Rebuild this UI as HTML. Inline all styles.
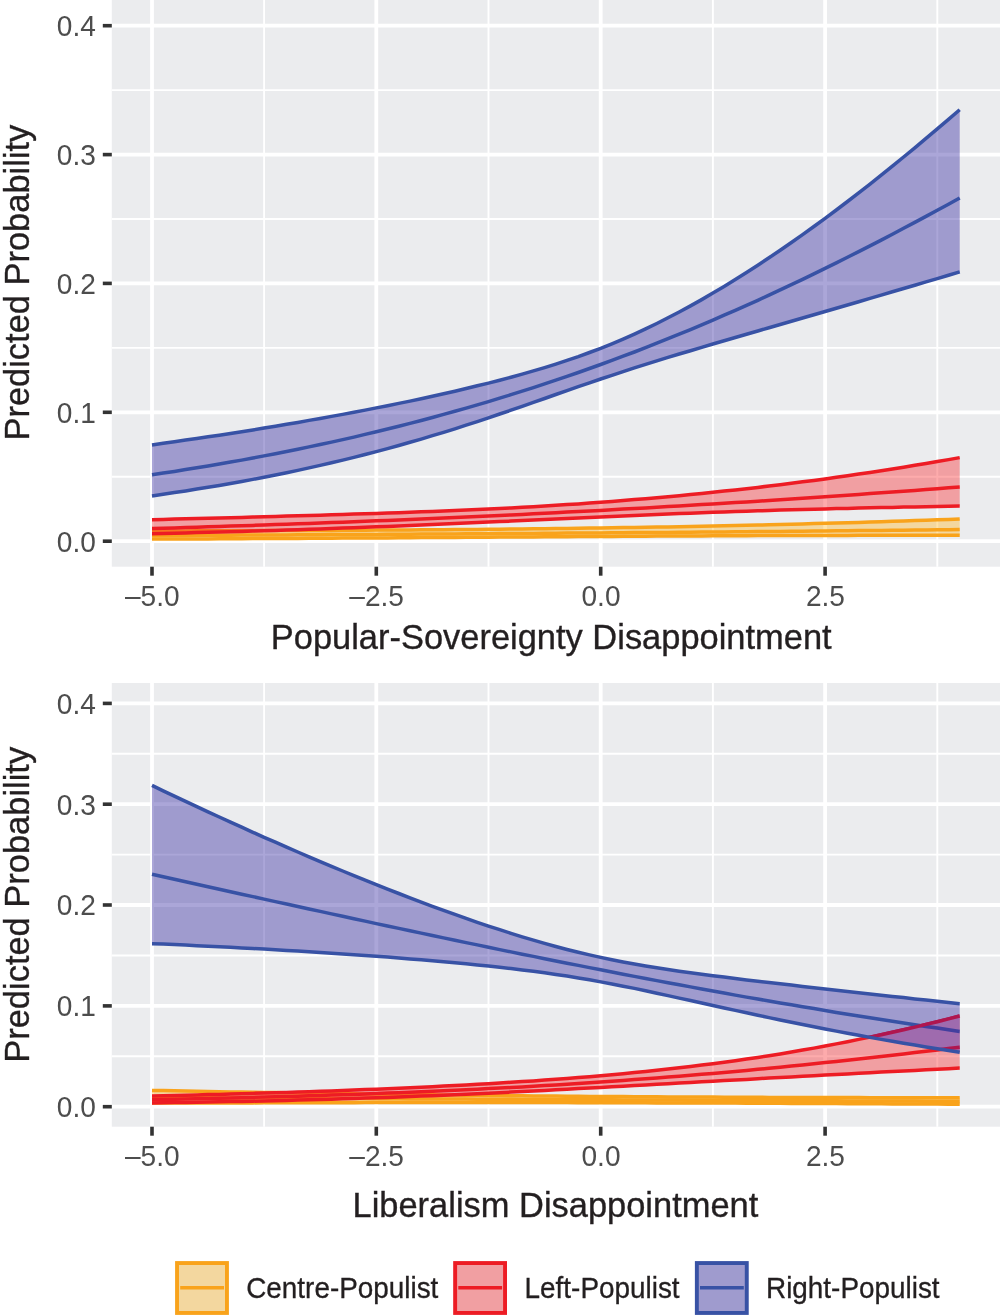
<!DOCTYPE html>
<html lang="en">
<head>
<meta charset="utf-8">
<title>Predicted Probability</title>
<style>
html,body{margin:0;padding:0;background:#ffffff;}
body{width:1000px;height:1315px;overflow:hidden;font-family:"Liberation Sans",sans-serif;}
svg{display:block;will-change:transform;}
svg text{font-family:"Liberation Sans",sans-serif;}
</style>
</head>
<body>
<svg width="1000" height="1315" viewBox="0 0 1000 1315">
<rect x="0" y="0" width="1000" height="1315" fill="#ffffff"/>
<rect x="111.8" y="0.0" width="888.2" height="566.7" fill="#ebecee"/>
<line x1="111.8" x2="1000.0" y1="476.8" y2="476.8" stroke="#ffffff" stroke-width="1.9"/>
<line x1="111.8" x2="1000.0" y1="347.9" y2="347.9" stroke="#ffffff" stroke-width="1.9"/>
<line x1="111.8" x2="1000.0" y1="219.0" y2="219.0" stroke="#ffffff" stroke-width="1.9"/>
<line x1="111.8" x2="1000.0" y1="90.1" y2="90.1" stroke="#ffffff" stroke-width="1.9"/>
<line x1="264.1" x2="264.1" y1="0.0" y2="566.7" stroke="#ffffff" stroke-width="1.9"/>
<line x1="488.5" x2="488.5" y1="0.0" y2="566.7" stroke="#ffffff" stroke-width="1.9"/>
<line x1="712.9" x2="712.9" y1="0.0" y2="566.7" stroke="#ffffff" stroke-width="1.9"/>
<line x1="937.3" x2="937.3" y1="0.0" y2="566.7" stroke="#ffffff" stroke-width="1.9"/>
<line x1="111.8" x2="1000.0" y1="541.2" y2="541.2" stroke="#ffffff" stroke-width="3.8"/>
<line x1="111.8" x2="1000.0" y1="412.3" y2="412.3" stroke="#ffffff" stroke-width="3.8"/>
<line x1="111.8" x2="1000.0" y1="283.4" y2="283.4" stroke="#ffffff" stroke-width="3.8"/>
<line x1="111.8" x2="1000.0" y1="154.6" y2="154.6" stroke="#ffffff" stroke-width="3.8"/>
<line x1="111.8" x2="1000.0" y1="25.7" y2="25.7" stroke="#ffffff" stroke-width="3.8"/>
<line x1="152.0" x2="152.0" y1="0.0" y2="566.7" stroke="#ffffff" stroke-width="3.8"/>
<line x1="376.3" x2="376.3" y1="0.0" y2="566.7" stroke="#ffffff" stroke-width="3.8"/>
<line x1="600.7" x2="600.7" y1="0.0" y2="566.7" stroke="#ffffff" stroke-width="3.8"/>
<line x1="825.1" x2="825.1" y1="0.0" y2="566.7" stroke="#ffffff" stroke-width="3.8"/>
<clipPath id="clip-p0"><path d="M152.0,444.9 L163.2,443.3 L174.4,441.7 L185.6,440.1 L196.8,438.5 L208.0,436.8 L219.3,435.2 L230.5,433.4 L241.7,431.7 L252.9,429.9 L264.1,428.1 L275.4,426.2 L286.6,424.3 L297.8,422.4 L309.0,420.4 L320.2,418.5 L331.5,416.4 L342.7,414.4 L353.9,412.2 L365.1,410.1 L376.3,407.9 L387.5,405.7 L398.8,403.4 L410.0,401.1 L421.2,398.7 L432.4,396.2 L443.6,393.7 L454.9,391.2 L466.1,388.5 L477.3,385.8 L488.5,383.1 L499.7,380.2 L511.0,377.2 L522.2,374.1 L533.4,370.9 L544.6,367.6 L555.8,364.1 L567.0,360.4 L578.3,356.6 L589.5,352.5 L600.7,348.3 L611.9,343.8 L623.1,339.1 L634.4,334.1 L645.6,328.9 L656.8,323.5 L668.0,317.8 L679.2,312.0 L690.5,305.9 L701.7,299.6 L712.9,293.1 L724.1,286.4 L735.3,279.5 L746.5,272.4 L757.8,265.2 L769.0,257.8 L780.2,250.2 L791.4,242.5 L802.6,234.6 L813.9,226.5 L825.1,218.3 L836.3,210.0 L847.5,201.5 L858.7,192.8 L870.0,184.1 L881.2,175.2 L892.4,166.2 L903.6,157.0 L914.8,147.8 L926.0,138.4 L937.3,128.9 L948.5,119.4 L959.7,109.7 L959.7,271.9 L948.5,275.3 L937.3,278.6 L926.0,281.9 L914.8,285.2 L903.6,288.5 L892.4,291.8 L881.2,295.1 L870.0,298.4 L858.7,301.7 L847.5,305.0 L836.3,308.2 L825.1,311.5 L813.9,314.8 L802.6,318.0 L791.4,321.2 L780.2,324.5 L769.0,327.7 L757.8,331.0 L746.5,334.2 L735.3,337.5 L724.1,340.8 L712.9,344.0 L701.7,347.3 L690.5,350.7 L679.2,354.0 L668.0,357.4 L656.8,360.9 L645.6,364.4 L634.4,367.9 L623.1,371.6 L611.9,375.3 L600.7,379.0 L589.5,382.8 L578.3,386.7 L567.0,390.6 L555.8,394.5 L544.6,398.5 L533.4,402.4 L522.2,406.3 L511.0,410.2 L499.7,414.0 L488.5,417.8 L477.3,421.6 L466.1,425.2 L454.9,428.8 L443.6,432.3 L432.4,435.7 L421.2,439.1 L410.0,442.3 L398.8,445.5 L387.5,448.6 L376.3,451.6 L365.1,454.5 L353.9,457.4 L342.7,460.1 L331.5,462.8 L320.2,465.4 L309.0,467.9 L297.8,470.4 L286.6,472.7 L275.4,475.0 L264.1,477.2 L252.9,479.4 L241.7,481.5 L230.5,483.5 L219.3,485.4 L208.0,487.3 L196.8,489.1 L185.6,490.9 L174.4,492.6 L163.2,494.3 L152.0,495.9Z"/></clipPath>
<path d="M152.0,530.9 L163.2,530.9 L174.4,530.9 L185.6,530.9 L196.8,530.8 L208.0,530.8 L219.3,530.8 L230.5,530.7 L241.7,530.7 L252.9,530.7 L264.1,530.6 L275.4,530.6 L286.6,530.6 L297.8,530.5 L309.0,530.5 L320.2,530.4 L331.5,530.4 L342.7,530.3 L353.9,530.3 L365.1,530.2 L376.3,530.1 L387.5,530.1 L398.8,530.0 L410.0,529.9 L421.2,529.8 L432.4,529.8 L443.6,529.7 L454.9,529.6 L466.1,529.5 L477.3,529.4 L488.5,529.3 L499.7,529.2 L511.0,529.0 L522.2,528.9 L533.4,528.8 L544.6,528.7 L555.8,528.5 L567.0,528.4 L578.3,528.2 L589.5,528.1 L600.7,527.9 L611.9,527.8 L623.1,527.6 L634.4,527.4 L645.6,527.2 L656.8,527.1 L668.0,526.9 L679.2,526.7 L690.5,526.4 L701.7,526.2 L712.9,526.0 L724.1,525.8 L735.3,525.5 L746.5,525.3 L757.8,525.0 L769.0,524.8 L780.2,524.5 L791.4,524.2 L802.6,523.9 L813.9,523.6 L825.1,523.3 L836.3,523.0 L847.5,522.7 L858.7,522.4 L870.0,522.0 L881.2,521.7 L892.4,521.3 L903.6,521.0 L914.8,520.6 L926.0,520.2 L937.3,519.8 L948.5,519.4 L959.7,519.0 L959.7,535.2 L948.5,535.2 L937.3,535.2 L926.0,535.2 L914.8,535.3 L903.6,535.3 L892.4,535.3 L881.2,535.3 L870.0,535.3 L858.7,535.3 L847.5,535.4 L836.3,535.4 L825.1,535.4 L813.9,535.4 L802.6,535.5 L791.4,535.5 L780.2,535.5 L769.0,535.6 L757.8,535.6 L746.5,535.7 L735.3,535.7 L724.1,535.8 L712.9,535.8 L701.7,535.9 L690.5,535.9 L679.2,536.0 L668.0,536.0 L656.8,536.1 L645.6,536.2 L634.4,536.2 L623.1,536.3 L611.9,536.4 L600.7,536.4 L589.5,536.5 L578.3,536.6 L567.0,536.7 L555.8,536.7 L544.6,536.8 L533.4,536.9 L522.2,537.0 L511.0,537.0 L499.7,537.1 L488.5,537.2 L477.3,537.3 L466.1,537.3 L454.9,537.4 L443.6,537.5 L432.4,537.6 L421.2,537.6 L410.0,537.7 L398.8,537.8 L387.5,537.9 L376.3,537.9 L365.1,538.0 L353.9,538.1 L342.7,538.1 L331.5,538.2 L320.2,538.3 L309.0,538.3 L297.8,538.4 L286.6,538.5 L275.4,538.5 L264.1,538.6 L252.9,538.6 L241.7,538.7 L230.5,538.8 L219.3,538.8 L208.0,538.9 L196.8,538.9 L185.6,539.0 L174.4,539.0 L163.2,539.1 L152.0,539.1Z" fill="#ffb929" fill-opacity="0.4" stroke="none"/>
<path d="M152.0,530.9 L163.2,530.9 L174.4,530.9 L185.6,530.9 L196.8,530.8 L208.0,530.8 L219.3,530.8 L230.5,530.7 L241.7,530.7 L252.9,530.7 L264.1,530.6 L275.4,530.6 L286.6,530.6 L297.8,530.5 L309.0,530.5 L320.2,530.4 L331.5,530.4 L342.7,530.3 L353.9,530.3 L365.1,530.2 L376.3,530.1 L387.5,530.1 L398.8,530.0 L410.0,529.9 L421.2,529.8 L432.4,529.8 L443.6,529.7 L454.9,529.6 L466.1,529.5 L477.3,529.4 L488.5,529.3 L499.7,529.2 L511.0,529.0 L522.2,528.9 L533.4,528.8 L544.6,528.7 L555.8,528.5 L567.0,528.4 L578.3,528.2 L589.5,528.1 L600.7,527.9 L611.9,527.8 L623.1,527.6 L634.4,527.4 L645.6,527.2 L656.8,527.1 L668.0,526.9 L679.2,526.7 L690.5,526.4 L701.7,526.2 L712.9,526.0 L724.1,525.8 L735.3,525.5 L746.5,525.3 L757.8,525.0 L769.0,524.8 L780.2,524.5 L791.4,524.2 L802.6,523.9 L813.9,523.6 L825.1,523.3 L836.3,523.0 L847.5,522.7 L858.7,522.4 L870.0,522.0 L881.2,521.7 L892.4,521.3 L903.6,521.0 L914.8,520.6 L926.0,520.2 L937.3,519.8 L948.5,519.4 L959.7,519.0" fill="none" stroke="#f9a31b" stroke-width="3.5" stroke-linejoin="round"/>
<path d="M152.0,539.1 L163.2,539.1 L174.4,539.0 L185.6,539.0 L196.8,538.9 L208.0,538.9 L219.3,538.8 L230.5,538.8 L241.7,538.7 L252.9,538.6 L264.1,538.6 L275.4,538.5 L286.6,538.5 L297.8,538.4 L309.0,538.3 L320.2,538.3 L331.5,538.2 L342.7,538.1 L353.9,538.1 L365.1,538.0 L376.3,537.9 L387.5,537.9 L398.8,537.8 L410.0,537.7 L421.2,537.6 L432.4,537.6 L443.6,537.5 L454.9,537.4 L466.1,537.3 L477.3,537.3 L488.5,537.2 L499.7,537.1 L511.0,537.0 L522.2,537.0 L533.4,536.9 L544.6,536.8 L555.8,536.7 L567.0,536.7 L578.3,536.6 L589.5,536.5 L600.7,536.4 L611.9,536.4 L623.1,536.3 L634.4,536.2 L645.6,536.2 L656.8,536.1 L668.0,536.0 L679.2,536.0 L690.5,535.9 L701.7,535.9 L712.9,535.8 L724.1,535.8 L735.3,535.7 L746.5,535.7 L757.8,535.6 L769.0,535.6 L780.2,535.5 L791.4,535.5 L802.6,535.5 L813.9,535.4 L825.1,535.4 L836.3,535.4 L847.5,535.4 L858.7,535.3 L870.0,535.3 L881.2,535.3 L892.4,535.3 L903.6,535.3 L914.8,535.3 L926.0,535.2 L937.3,535.2 L948.5,535.2 L959.7,535.2" fill="none" stroke="#f9a31b" stroke-width="3.5" stroke-linejoin="round"/>
<path d="M152.0,535.6 L163.2,535.5 L174.4,535.4 L185.6,535.4 L196.8,535.3 L208.0,535.3 L219.3,535.2 L230.5,535.2 L241.7,535.1 L252.9,535.1 L264.1,535.0 L275.4,534.9 L286.6,534.9 L297.8,534.8 L309.0,534.8 L320.2,534.7 L331.5,534.6 L342.7,534.6 L353.9,534.5 L365.1,534.5 L376.3,534.4 L387.5,534.3 L398.8,534.3 L410.0,534.2 L421.2,534.1 L432.4,534.1 L443.6,534.0 L454.9,533.9 L466.1,533.8 L477.3,533.8 L488.5,533.7 L499.7,533.6 L511.0,533.5 L522.2,533.5 L533.4,533.4 L544.6,533.3 L555.8,533.2 L567.0,533.1 L578.3,533.1 L589.5,533.0 L600.7,532.9 L611.9,532.8 L623.1,532.7 L634.4,532.6 L645.6,532.5 L656.8,532.5 L668.0,532.4 L679.2,532.3 L690.5,532.2 L701.7,532.1 L712.9,532.0 L724.1,531.9 L735.3,531.8 L746.5,531.7 L757.8,531.6 L769.0,531.5 L780.2,531.4 L791.4,531.3 L802.6,531.2 L813.9,531.1 L825.1,531.0 L836.3,530.8 L847.5,530.7 L858.7,530.6 L870.0,530.5 L881.2,530.4 L892.4,530.3 L903.6,530.2 L914.8,530.0 L926.0,529.9 L937.3,529.8 L948.5,529.7 L959.7,529.5" fill="none" stroke="#f9a31b" stroke-width="3.5" stroke-linejoin="round"/>
<path d="M152.0,519.7 L163.2,519.4 L174.4,519.1 L185.6,518.8 L196.8,518.5 L208.0,518.2 L219.3,517.9 L230.5,517.7 L241.7,517.4 L252.9,517.1 L264.1,516.8 L275.4,516.4 L286.6,516.1 L297.8,515.8 L309.0,515.5 L320.2,515.2 L331.5,514.8 L342.7,514.5 L353.9,514.1 L365.1,513.8 L376.3,513.4 L387.5,513.0 L398.8,512.7 L410.0,512.3 L421.2,511.8 L432.4,511.4 L443.6,511.0 L454.9,510.5 L466.1,510.0 L477.3,509.5 L488.5,509.0 L499.7,508.4 L511.0,507.9 L522.2,507.3 L533.4,506.7 L544.6,506.0 L555.8,505.3 L567.0,504.6 L578.3,503.9 L589.5,503.1 L600.7,502.3 L611.9,501.4 L623.1,500.6 L634.4,499.6 L645.6,498.7 L656.8,497.7 L668.0,496.7 L679.2,495.7 L690.5,494.6 L701.7,493.5 L712.9,492.3 L724.1,491.1 L735.3,489.9 L746.5,488.7 L757.8,487.4 L769.0,486.0 L780.2,484.7 L791.4,483.3 L802.6,481.8 L813.9,480.4 L825.1,478.9 L836.3,477.3 L847.5,475.7 L858.7,474.1 L870.0,472.4 L881.2,470.7 L892.4,469.0 L903.6,467.2 L914.8,465.3 L926.0,463.5 L937.3,461.6 L948.5,459.6 L959.7,457.6 L959.7,506.1 L948.5,506.3 L937.3,506.5 L926.0,506.7 L914.8,506.9 L903.6,507.1 L892.4,507.4 L881.2,507.6 L870.0,507.8 L858.7,508.1 L847.5,508.4 L836.3,508.6 L825.1,508.9 L813.9,509.2 L802.6,509.5 L791.4,509.8 L780.2,510.1 L769.0,510.5 L757.8,510.8 L746.5,511.2 L735.3,511.6 L724.1,511.9 L712.9,512.3 L701.7,512.7 L690.5,513.2 L679.2,513.6 L668.0,514.1 L656.8,514.5 L645.6,515.0 L634.4,515.5 L623.1,516.0 L611.9,516.5 L600.7,517.0 L589.5,517.5 L578.3,518.0 L567.0,518.5 L555.8,519.0 L544.6,519.5 L533.4,520.1 L522.2,520.6 L511.0,521.1 L499.7,521.6 L488.5,522.1 L477.3,522.6 L466.1,523.1 L454.9,523.6 L443.6,524.1 L432.4,524.6 L421.2,525.0 L410.0,525.5 L398.8,526.0 L387.5,526.4 L376.3,526.8 L365.1,527.3 L353.9,527.7 L342.7,528.1 L331.5,528.5 L320.2,528.9 L309.0,529.3 L297.8,529.7 L286.6,530.0 L275.4,530.4 L264.1,530.7 L252.9,531.1 L241.7,531.4 L230.5,531.7 L219.3,532.0 L208.0,532.3 L196.8,532.6 L185.6,532.9 L174.4,533.2 L163.2,533.5 L152.0,533.7Z" fill="#fb2c2f" fill-opacity="0.4" stroke="none"/>
<path d="M152.0,519.7 L163.2,519.4 L174.4,519.1 L185.6,518.8 L196.8,518.5 L208.0,518.2 L219.3,517.9 L230.5,517.7 L241.7,517.4 L252.9,517.1 L264.1,516.8 L275.4,516.4 L286.6,516.1 L297.8,515.8 L309.0,515.5 L320.2,515.2 L331.5,514.8 L342.7,514.5 L353.9,514.1 L365.1,513.8 L376.3,513.4 L387.5,513.0 L398.8,512.7 L410.0,512.3 L421.2,511.8 L432.4,511.4 L443.6,511.0 L454.9,510.5 L466.1,510.0 L477.3,509.5 L488.5,509.0 L499.7,508.4 L511.0,507.9 L522.2,507.3 L533.4,506.7 L544.6,506.0 L555.8,505.3 L567.0,504.6 L578.3,503.9 L589.5,503.1 L600.7,502.3 L611.9,501.4 L623.1,500.6 L634.4,499.6 L645.6,498.7 L656.8,497.7 L668.0,496.7 L679.2,495.7 L690.5,494.6 L701.7,493.5 L712.9,492.3 L724.1,491.1 L735.3,489.9 L746.5,488.7 L757.8,487.4 L769.0,486.0 L780.2,484.7 L791.4,483.3 L802.6,481.8 L813.9,480.4 L825.1,478.9 L836.3,477.3 L847.5,475.7 L858.7,474.1 L870.0,472.4 L881.2,470.7 L892.4,469.0 L903.6,467.2 L914.8,465.3 L926.0,463.5 L937.3,461.6 L948.5,459.6 L959.7,457.6" fill="none" stroke="#ed1c24" stroke-width="3.5" stroke-linejoin="round"/>
<path d="M152.0,533.7 L163.2,533.5 L174.4,533.2 L185.6,532.9 L196.8,532.6 L208.0,532.3 L219.3,532.0 L230.5,531.7 L241.7,531.4 L252.9,531.1 L264.1,530.7 L275.4,530.4 L286.6,530.0 L297.8,529.7 L309.0,529.3 L320.2,528.9 L331.5,528.5 L342.7,528.1 L353.9,527.7 L365.1,527.3 L376.3,526.8 L387.5,526.4 L398.8,526.0 L410.0,525.5 L421.2,525.0 L432.4,524.6 L443.6,524.1 L454.9,523.6 L466.1,523.1 L477.3,522.6 L488.5,522.1 L499.7,521.6 L511.0,521.1 L522.2,520.6 L533.4,520.1 L544.6,519.5 L555.8,519.0 L567.0,518.5 L578.3,518.0 L589.5,517.5 L600.7,517.0 L611.9,516.5 L623.1,516.0 L634.4,515.5 L645.6,515.0 L656.8,514.5 L668.0,514.1 L679.2,513.6 L690.5,513.2 L701.7,512.7 L712.9,512.3 L724.1,511.9 L735.3,511.6 L746.5,511.2 L757.8,510.8 L769.0,510.5 L780.2,510.1 L791.4,509.8 L802.6,509.5 L813.9,509.2 L825.1,508.9 L836.3,508.6 L847.5,508.4 L858.7,508.1 L870.0,507.8 L881.2,507.6 L892.4,507.4 L903.6,507.1 L914.8,506.9 L926.0,506.7 L937.3,506.5 L948.5,506.3 L959.7,506.1" fill="none" stroke="#ed1c24" stroke-width="3.5" stroke-linejoin="round"/>
<path d="M152.0,528.5 L163.2,528.2 L174.4,527.9 L185.6,527.5 L196.8,527.2 L208.0,526.8 L219.3,526.5 L230.5,526.1 L241.7,525.8 L252.9,525.4 L264.1,525.0 L275.4,524.6 L286.6,524.2 L297.8,523.8 L309.0,523.4 L320.2,523.0 L331.5,522.6 L342.7,522.2 L353.9,521.7 L365.1,521.3 L376.3,520.8 L387.5,520.4 L398.8,519.9 L410.0,519.4 L421.2,519.0 L432.4,518.5 L443.6,518.0 L454.9,517.5 L466.1,517.0 L477.3,516.5 L488.5,516.0 L499.7,515.4 L511.0,514.9 L522.2,514.4 L533.4,513.8 L544.6,513.3 L555.8,512.7 L567.0,512.1 L578.3,511.5 L589.5,511.0 L600.7,510.4 L611.9,509.8 L623.1,509.1 L634.4,508.5 L645.6,507.9 L656.8,507.3 L668.0,506.6 L679.2,506.0 L690.5,505.3 L701.7,504.6 L712.9,504.0 L724.1,503.3 L735.3,502.6 L746.5,501.9 L757.8,501.2 L769.0,500.5 L780.2,499.8 L791.4,499.0 L802.6,498.3 L813.9,497.5 L825.1,496.8 L836.3,496.0 L847.5,495.2 L858.7,494.4 L870.0,493.6 L881.2,492.8 L892.4,492.0 L903.6,491.2 L914.8,490.4 L926.0,489.5 L937.3,488.7 L948.5,487.8 L959.7,487.0" fill="none" stroke="#ed1c24" stroke-width="3.5" stroke-linejoin="round"/>
<path d="M152.0,444.9 L163.2,443.3 L174.4,441.7 L185.6,440.1 L196.8,438.5 L208.0,436.8 L219.3,435.2 L230.5,433.4 L241.7,431.7 L252.9,429.9 L264.1,428.1 L275.4,426.2 L286.6,424.3 L297.8,422.4 L309.0,420.4 L320.2,418.5 L331.5,416.4 L342.7,414.4 L353.9,412.2 L365.1,410.1 L376.3,407.9 L387.5,405.7 L398.8,403.4 L410.0,401.1 L421.2,398.7 L432.4,396.2 L443.6,393.7 L454.9,391.2 L466.1,388.5 L477.3,385.8 L488.5,383.1 L499.7,380.2 L511.0,377.2 L522.2,374.1 L533.4,370.9 L544.6,367.6 L555.8,364.1 L567.0,360.4 L578.3,356.6 L589.5,352.5 L600.7,348.3 L611.9,343.8 L623.1,339.1 L634.4,334.1 L645.6,328.9 L656.8,323.5 L668.0,317.8 L679.2,312.0 L690.5,305.9 L701.7,299.6 L712.9,293.1 L724.1,286.4 L735.3,279.5 L746.5,272.4 L757.8,265.2 L769.0,257.8 L780.2,250.2 L791.4,242.5 L802.6,234.6 L813.9,226.5 L825.1,218.3 L836.3,210.0 L847.5,201.5 L858.7,192.8 L870.0,184.1 L881.2,175.2 L892.4,166.2 L903.6,157.0 L914.8,147.8 L926.0,138.4 L937.3,128.9 L948.5,119.4 L959.7,109.7 L959.7,271.9 L948.5,275.3 L937.3,278.6 L926.0,281.9 L914.8,285.2 L903.6,288.5 L892.4,291.8 L881.2,295.1 L870.0,298.4 L858.7,301.7 L847.5,305.0 L836.3,308.2 L825.1,311.5 L813.9,314.8 L802.6,318.0 L791.4,321.2 L780.2,324.5 L769.0,327.7 L757.8,331.0 L746.5,334.2 L735.3,337.5 L724.1,340.8 L712.9,344.0 L701.7,347.3 L690.5,350.7 L679.2,354.0 L668.0,357.4 L656.8,360.9 L645.6,364.4 L634.4,367.9 L623.1,371.6 L611.9,375.3 L600.7,379.0 L589.5,382.8 L578.3,386.7 L567.0,390.6 L555.8,394.5 L544.6,398.5 L533.4,402.4 L522.2,406.3 L511.0,410.2 L499.7,414.0 L488.5,417.8 L477.3,421.6 L466.1,425.2 L454.9,428.8 L443.6,432.3 L432.4,435.7 L421.2,439.1 L410.0,442.3 L398.8,445.5 L387.5,448.6 L376.3,451.6 L365.1,454.5 L353.9,457.4 L342.7,460.1 L331.5,462.8 L320.2,465.4 L309.0,467.9 L297.8,470.4 L286.6,472.7 L275.4,475.0 L264.1,477.2 L252.9,479.4 L241.7,481.5 L230.5,483.5 L219.3,485.4 L208.0,487.3 L196.8,489.1 L185.6,490.9 L174.4,492.6 L163.2,494.3 L152.0,495.9Z" fill="#382ba3" fill-opacity="0.42" stroke="none"/>
<path d="M152.0,474.8 L163.2,473.1 L174.4,471.4 L185.6,469.6 L196.8,467.8 L208.0,465.9 L219.3,464.0 L230.5,462.1 L241.7,460.1 L252.9,458.0 L264.1,455.9 L275.4,453.7 L286.6,451.5 L297.8,449.2 L309.0,446.9 L320.2,444.5 L331.5,442.1 L342.7,439.6 L353.9,437.1 L365.1,434.4 L376.3,431.8 L387.5,429.0 L398.8,426.3 L410.0,423.4 L421.2,420.5 L432.4,417.5 L443.6,414.4 L454.9,411.3 L466.1,408.1 L477.3,404.9 L488.5,401.6 L499.7,398.2 L511.0,394.7 L522.2,391.2 L533.4,387.6 L544.6,383.9 L555.8,380.2 L567.0,376.4 L578.3,372.5 L589.5,368.5 L600.7,364.5 L611.9,360.4 L623.1,356.2 L634.4,352.0 L645.6,347.6 L656.8,343.2 L668.0,338.7 L679.2,334.2 L690.5,329.6 L701.7,324.9 L712.9,320.1 L724.1,315.2 L735.3,310.3 L746.5,305.3 L757.8,300.3 L769.0,295.1 L780.2,289.9 L791.4,284.7 L802.6,279.3 L813.9,273.9 L825.1,268.4 L836.3,262.9 L847.5,257.3 L858.7,251.6 L870.0,245.9 L881.2,240.1 L892.4,234.2 L903.6,228.3 L914.8,222.4 L926.0,216.4 L937.3,210.3 L948.5,204.2 L959.7,198.0" fill="none" stroke="#3852a5" stroke-width="3.5" stroke-linejoin="round"/>
<clipPath id="clipr-p0"><path d="M152.0,519.7 L163.2,519.4 L174.4,519.1 L185.6,518.8 L196.8,518.5 L208.0,518.2 L219.3,517.9 L230.5,517.7 L241.7,517.4 L252.9,517.1 L264.1,516.8 L275.4,516.4 L286.6,516.1 L297.8,515.8 L309.0,515.5 L320.2,515.2 L331.5,514.8 L342.7,514.5 L353.9,514.1 L365.1,513.8 L376.3,513.4 L387.5,513.0 L398.8,512.7 L410.0,512.3 L421.2,511.8 L432.4,511.4 L443.6,511.0 L454.9,510.5 L466.1,510.0 L477.3,509.5 L488.5,509.0 L499.7,508.4 L511.0,507.9 L522.2,507.3 L533.4,506.7 L544.6,506.0 L555.8,505.3 L567.0,504.6 L578.3,503.9 L589.5,503.1 L600.7,502.3 L611.9,501.4 L623.1,500.6 L634.4,499.6 L645.6,498.7 L656.8,497.7 L668.0,496.7 L679.2,495.7 L690.5,494.6 L701.7,493.5 L712.9,492.3 L724.1,491.1 L735.3,489.9 L746.5,488.7 L757.8,487.4 L769.0,486.0 L780.2,484.7 L791.4,483.3 L802.6,481.8 L813.9,480.4 L825.1,478.9 L836.3,477.3 L847.5,475.7 L858.7,474.1 L870.0,472.4 L881.2,470.7 L892.4,469.0 L903.6,467.2 L914.8,465.3 L926.0,463.5 L937.3,461.6 L948.5,459.6 L959.7,457.6 L959.7,506.1 L948.5,506.3 L937.3,506.5 L926.0,506.7 L914.8,506.9 L903.6,507.1 L892.4,507.4 L881.2,507.6 L870.0,507.8 L858.7,508.1 L847.5,508.4 L836.3,508.6 L825.1,508.9 L813.9,509.2 L802.6,509.5 L791.4,509.8 L780.2,510.1 L769.0,510.5 L757.8,510.8 L746.5,511.2 L735.3,511.6 L724.1,511.9 L712.9,512.3 L701.7,512.7 L690.5,513.2 L679.2,513.6 L668.0,514.1 L656.8,514.5 L645.6,515.0 L634.4,515.5 L623.1,516.0 L611.9,516.5 L600.7,517.0 L589.5,517.5 L578.3,518.0 L567.0,518.5 L555.8,519.0 L544.6,519.5 L533.4,520.1 L522.2,520.6 L511.0,521.1 L499.7,521.6 L488.5,522.1 L477.3,522.6 L466.1,523.1 L454.9,523.6 L443.6,524.1 L432.4,524.6 L421.2,525.0 L410.0,525.5 L398.8,526.0 L387.5,526.4 L376.3,526.8 L365.1,527.3 L353.9,527.7 L342.7,528.1 L331.5,528.5 L320.2,528.9 L309.0,529.3 L297.8,529.7 L286.6,530.0 L275.4,530.4 L264.1,530.7 L252.9,531.1 L241.7,531.4 L230.5,531.7 L219.3,532.0 L208.0,532.3 L196.8,532.6 L185.6,532.9 L174.4,533.2 L163.2,533.5 L152.0,533.7Z"/></clipPath>
<g clip-path="url(#clip-p0)">
<path d="M152.0,519.7 L163.2,519.4 L174.4,519.1 L185.6,518.8 L196.8,518.5 L208.0,518.2 L219.3,517.9 L230.5,517.7 L241.7,517.4 L252.9,517.1 L264.1,516.8 L275.4,516.4 L286.6,516.1 L297.8,515.8 L309.0,515.5 L320.2,515.2 L331.5,514.8 L342.7,514.5 L353.9,514.1 L365.1,513.8 L376.3,513.4 L387.5,513.0 L398.8,512.7 L410.0,512.3 L421.2,511.8 L432.4,511.4 L443.6,511.0 L454.9,510.5 L466.1,510.0 L477.3,509.5 L488.5,509.0 L499.7,508.4 L511.0,507.9 L522.2,507.3 L533.4,506.7 L544.6,506.0 L555.8,505.3 L567.0,504.6 L578.3,503.9 L589.5,503.1 L600.7,502.3 L611.9,501.4 L623.1,500.6 L634.4,499.6 L645.6,498.7 L656.8,497.7 L668.0,496.7 L679.2,495.7 L690.5,494.6 L701.7,493.5 L712.9,492.3 L724.1,491.1 L735.3,489.9 L746.5,488.7 L757.8,487.4 L769.0,486.0 L780.2,484.7 L791.4,483.3 L802.6,481.8 L813.9,480.4 L825.1,478.9 L836.3,477.3 L847.5,475.7 L858.7,474.1 L870.0,472.4 L881.2,470.7 L892.4,469.0 L903.6,467.2 L914.8,465.3 L926.0,463.5 L937.3,461.6 L948.5,459.6 L959.7,457.6 L959.7,506.1 L948.5,506.3 L937.3,506.5 L926.0,506.7 L914.8,506.9 L903.6,507.1 L892.4,507.4 L881.2,507.6 L870.0,507.8 L858.7,508.1 L847.5,508.4 L836.3,508.6 L825.1,508.9 L813.9,509.2 L802.6,509.5 L791.4,509.8 L780.2,510.1 L769.0,510.5 L757.8,510.8 L746.5,511.2 L735.3,511.6 L724.1,511.9 L712.9,512.3 L701.7,512.7 L690.5,513.2 L679.2,513.6 L668.0,514.1 L656.8,514.5 L645.6,515.0 L634.4,515.5 L623.1,516.0 L611.9,516.5 L600.7,517.0 L589.5,517.5 L578.3,518.0 L567.0,518.5 L555.8,519.0 L544.6,519.5 L533.4,520.1 L522.2,520.6 L511.0,521.1 L499.7,521.6 L488.5,522.1 L477.3,522.6 L466.1,523.1 L454.9,523.6 L443.6,524.1 L432.4,524.6 L421.2,525.0 L410.0,525.5 L398.8,526.0 L387.5,526.4 L376.3,526.8 L365.1,527.3 L353.9,527.7 L342.7,528.1 L331.5,528.5 L320.2,528.9 L309.0,529.3 L297.8,529.7 L286.6,530.0 L275.4,530.4 L264.1,530.7 L252.9,531.1 L241.7,531.4 L230.5,531.7 L219.3,532.0 L208.0,532.3 L196.8,532.6 L185.6,532.9 L174.4,533.2 L163.2,533.5 L152.0,533.7Z" fill="#9e6aaf" fill-opacity="0.92" stroke="none"/>
<g clip-path="url(#clipr-p0)"><path d="M152.0,474.8 L163.2,473.1 L174.4,471.4 L185.6,469.6 L196.8,467.8 L208.0,465.9 L219.3,464.0 L230.5,462.1 L241.7,460.1 L252.9,458.0 L264.1,455.9 L275.4,453.7 L286.6,451.5 L297.8,449.2 L309.0,446.9 L320.2,444.5 L331.5,442.1 L342.7,439.6 L353.9,437.1 L365.1,434.4 L376.3,431.8 L387.5,429.0 L398.8,426.3 L410.0,423.4 L421.2,420.5 L432.4,417.5 L443.6,414.4 L454.9,411.3 L466.1,408.1 L477.3,404.9 L488.5,401.6 L499.7,398.2 L511.0,394.7 L522.2,391.2 L533.4,387.6 L544.6,383.9 L555.8,380.2 L567.0,376.4 L578.3,372.5 L589.5,368.5 L600.7,364.5 L611.9,360.4 L623.1,356.2 L634.4,352.0 L645.6,347.6 L656.8,343.2 L668.0,338.7 L679.2,334.2 L690.5,329.6 L701.7,324.9 L712.9,320.1 L724.1,315.2 L735.3,310.3 L746.5,305.3 L757.8,300.3 L769.0,295.1 L780.2,289.9 L791.4,284.7 L802.6,279.3 L813.9,273.9 L825.1,268.4 L836.3,262.9 L847.5,257.3 L858.7,251.6 L870.0,245.9 L881.2,240.1 L892.4,234.2 L903.6,228.3 L914.8,222.4 L926.0,216.4 L937.3,210.3 L948.5,204.2 L959.7,198.0" fill="none" stroke="#433f9e" stroke-width="3.5" stroke-linejoin="round"/></g>
<path d="M152.0,519.7 L163.2,519.4 L174.4,519.1 L185.6,518.8 L196.8,518.5 L208.0,518.2 L219.3,517.9 L230.5,517.7 L241.7,517.4 L252.9,517.1 L264.1,516.8 L275.4,516.4 L286.6,516.1 L297.8,515.8 L309.0,515.5 L320.2,515.2 L331.5,514.8 L342.7,514.5 L353.9,514.1 L365.1,513.8 L376.3,513.4 L387.5,513.0 L398.8,512.7 L410.0,512.3 L421.2,511.8 L432.4,511.4 L443.6,511.0 L454.9,510.5 L466.1,510.0 L477.3,509.5 L488.5,509.0 L499.7,508.4 L511.0,507.9 L522.2,507.3 L533.4,506.7 L544.6,506.0 L555.8,505.3 L567.0,504.6 L578.3,503.9 L589.5,503.1 L600.7,502.3 L611.9,501.4 L623.1,500.6 L634.4,499.6 L645.6,498.7 L656.8,497.7 L668.0,496.7 L679.2,495.7 L690.5,494.6 L701.7,493.5 L712.9,492.3 L724.1,491.1 L735.3,489.9 L746.5,488.7 L757.8,487.4 L769.0,486.0 L780.2,484.7 L791.4,483.3 L802.6,481.8 L813.9,480.4 L825.1,478.9 L836.3,477.3 L847.5,475.7 L858.7,474.1 L870.0,472.4 L881.2,470.7 L892.4,469.0 L903.6,467.2 L914.8,465.3 L926.0,463.5 L937.3,461.6 L948.5,459.6 L959.7,457.6" fill="none" stroke="#b0164f" stroke-width="3.5" stroke-linejoin="round"/>
<path d="M152.0,533.7 L163.2,533.5 L174.4,533.2 L185.6,532.9 L196.8,532.6 L208.0,532.3 L219.3,532.0 L230.5,531.7 L241.7,531.4 L252.9,531.1 L264.1,530.7 L275.4,530.4 L286.6,530.0 L297.8,529.7 L309.0,529.3 L320.2,528.9 L331.5,528.5 L342.7,528.1 L353.9,527.7 L365.1,527.3 L376.3,526.8 L387.5,526.4 L398.8,526.0 L410.0,525.5 L421.2,525.0 L432.4,524.6 L443.6,524.1 L454.9,523.6 L466.1,523.1 L477.3,522.6 L488.5,522.1 L499.7,521.6 L511.0,521.1 L522.2,520.6 L533.4,520.1 L544.6,519.5 L555.8,519.0 L567.0,518.5 L578.3,518.0 L589.5,517.5 L600.7,517.0 L611.9,516.5 L623.1,516.0 L634.4,515.5 L645.6,515.0 L656.8,514.5 L668.0,514.1 L679.2,513.6 L690.5,513.2 L701.7,512.7 L712.9,512.3 L724.1,511.9 L735.3,511.6 L746.5,511.2 L757.8,510.8 L769.0,510.5 L780.2,510.1 L791.4,509.8 L802.6,509.5 L813.9,509.2 L825.1,508.9 L836.3,508.6 L847.5,508.4 L858.7,508.1 L870.0,507.8 L881.2,507.6 L892.4,507.4 L903.6,507.1 L914.8,506.9 L926.0,506.7 L937.3,506.5 L948.5,506.3 L959.7,506.1" fill="none" stroke="#b0164f" stroke-width="3.5" stroke-linejoin="round"/>
<path d="M152.0,528.5 L163.2,528.2 L174.4,527.9 L185.6,527.5 L196.8,527.2 L208.0,526.8 L219.3,526.5 L230.5,526.1 L241.7,525.8 L252.9,525.4 L264.1,525.0 L275.4,524.6 L286.6,524.2 L297.8,523.8 L309.0,523.4 L320.2,523.0 L331.5,522.6 L342.7,522.2 L353.9,521.7 L365.1,521.3 L376.3,520.8 L387.5,520.4 L398.8,519.9 L410.0,519.4 L421.2,519.0 L432.4,518.5 L443.6,518.0 L454.9,517.5 L466.1,517.0 L477.3,516.5 L488.5,516.0 L499.7,515.4 L511.0,514.9 L522.2,514.4 L533.4,513.8 L544.6,513.3 L555.8,512.7 L567.0,512.1 L578.3,511.5 L589.5,511.0 L600.7,510.4 L611.9,509.8 L623.1,509.1 L634.4,508.5 L645.6,507.9 L656.8,507.3 L668.0,506.6 L679.2,506.0 L690.5,505.3 L701.7,504.6 L712.9,504.0 L724.1,503.3 L735.3,502.6 L746.5,501.9 L757.8,501.2 L769.0,500.5 L780.2,499.8 L791.4,499.0 L802.6,498.3 L813.9,497.5 L825.1,496.8 L836.3,496.0 L847.5,495.2 L858.7,494.4 L870.0,493.6 L881.2,492.8 L892.4,492.0 L903.6,491.2 L914.8,490.4 L926.0,489.5 L937.3,488.7 L948.5,487.8 L959.7,487.0" fill="none" stroke="#b0164f" stroke-width="3.5" stroke-linejoin="round"/>
</g>
<path d="M152.0,444.9 L163.2,443.3 L174.4,441.7 L185.6,440.1 L196.8,438.5 L208.0,436.8 L219.3,435.2 L230.5,433.4 L241.7,431.7 L252.9,429.9 L264.1,428.1 L275.4,426.2 L286.6,424.3 L297.8,422.4 L309.0,420.4 L320.2,418.5 L331.5,416.4 L342.7,414.4 L353.9,412.2 L365.1,410.1 L376.3,407.9 L387.5,405.7 L398.8,403.4 L410.0,401.1 L421.2,398.7 L432.4,396.2 L443.6,393.7 L454.9,391.2 L466.1,388.5 L477.3,385.8 L488.5,383.1 L499.7,380.2 L511.0,377.2 L522.2,374.1 L533.4,370.9 L544.6,367.6 L555.8,364.1 L567.0,360.4 L578.3,356.6 L589.5,352.5 L600.7,348.3 L611.9,343.8 L623.1,339.1 L634.4,334.1 L645.6,328.9 L656.8,323.5 L668.0,317.8 L679.2,312.0 L690.5,305.9 L701.7,299.6 L712.9,293.1 L724.1,286.4 L735.3,279.5 L746.5,272.4 L757.8,265.2 L769.0,257.8 L780.2,250.2 L791.4,242.5 L802.6,234.6 L813.9,226.5 L825.1,218.3 L836.3,210.0 L847.5,201.5 L858.7,192.8 L870.0,184.1 L881.2,175.2 L892.4,166.2 L903.6,157.0 L914.8,147.8 L926.0,138.4 L937.3,128.9 L948.5,119.4 L959.7,109.7" fill="none" stroke="#3852a5" stroke-width="3.5" stroke-linejoin="round"/>
<path d="M152.0,495.9 L163.2,494.3 L174.4,492.6 L185.6,490.9 L196.8,489.1 L208.0,487.3 L219.3,485.4 L230.5,483.5 L241.7,481.5 L252.9,479.4 L264.1,477.2 L275.4,475.0 L286.6,472.7 L297.8,470.4 L309.0,467.9 L320.2,465.4 L331.5,462.8 L342.7,460.1 L353.9,457.4 L365.1,454.5 L376.3,451.6 L387.5,448.6 L398.8,445.5 L410.0,442.3 L421.2,439.1 L432.4,435.7 L443.6,432.3 L454.9,428.8 L466.1,425.2 L477.3,421.6 L488.5,417.8 L499.7,414.0 L511.0,410.2 L522.2,406.3 L533.4,402.4 L544.6,398.5 L555.8,394.5 L567.0,390.6 L578.3,386.7 L589.5,382.8 L600.7,379.0 L611.9,375.3 L623.1,371.6 L634.4,367.9 L645.6,364.4 L656.8,360.9 L668.0,357.4 L679.2,354.0 L690.5,350.7 L701.7,347.3 L712.9,344.0 L724.1,340.8 L735.3,337.5 L746.5,334.2 L757.8,331.0 L769.0,327.7 L780.2,324.5 L791.4,321.2 L802.6,318.0 L813.9,314.8 L825.1,311.5 L836.3,308.2 L847.5,305.0 L858.7,301.7 L870.0,298.4 L881.2,295.1 L892.4,291.8 L903.6,288.5 L914.8,285.2 L926.0,281.9 L937.3,278.6 L948.5,275.3 L959.7,271.9" fill="none" stroke="#3852a5" stroke-width="3.5" stroke-linejoin="round"/>
<line x1="102.8" x2="111.8" y1="541.2" y2="541.2" stroke="#333333" stroke-width="3.6"/>
<text transform="translate(95.9,551.6) scale(1,1.055)" text-anchor="end" font-size="28.1" fill="#4d4d4d">0.0</text>
<line x1="102.8" x2="111.8" y1="412.3" y2="412.3" stroke="#333333" stroke-width="3.6"/>
<text transform="translate(95.9,422.7) scale(1,1.055)" text-anchor="end" font-size="28.1" fill="#4d4d4d">0.1</text>
<line x1="102.8" x2="111.8" y1="283.4" y2="283.4" stroke="#333333" stroke-width="3.6"/>
<text transform="translate(95.9,293.8) scale(1,1.055)" text-anchor="end" font-size="28.1" fill="#4d4d4d">0.2</text>
<line x1="102.8" x2="111.8" y1="154.6" y2="154.6" stroke="#333333" stroke-width="3.6"/>
<text transform="translate(95.9,165.0) scale(1,1.055)" text-anchor="end" font-size="28.1" fill="#4d4d4d">0.3</text>
<line x1="102.8" x2="111.8" y1="25.7" y2="25.7" stroke="#333333" stroke-width="3.6"/>
<text transform="translate(95.9,36.1) scale(1,1.055)" text-anchor="end" font-size="28.1" fill="#4d4d4d">0.4</text>
<line x1="152.0" x2="152.0" y1="566.7" y2="575.7" stroke="#333333" stroke-width="3.6"/>
<text transform="translate(152.3,606.2) scale(1,1.055)" text-anchor="middle" font-size="28.1" fill="#4d4d4d">–5.0</text>
<line x1="376.3" x2="376.3" y1="566.7" y2="575.7" stroke="#333333" stroke-width="3.6"/>
<text transform="translate(376.6,606.2) scale(1,1.055)" text-anchor="middle" font-size="28.1" fill="#4d4d4d">–2.5</text>
<line x1="600.7" x2="600.7" y1="566.7" y2="575.7" stroke="#333333" stroke-width="3.6"/>
<text transform="translate(601.0,606.2) scale(1,1.055)" text-anchor="middle" font-size="28.1" fill="#4d4d4d">0.0</text>
<line x1="825.1" x2="825.1" y1="566.7" y2="575.7" stroke="#333333" stroke-width="3.6"/>
<text transform="translate(825.4,606.2) scale(1,1.055)" text-anchor="middle" font-size="28.1" fill="#4d4d4d">2.5</text>
<rect x="111.8" y="683.0" width="888.2" height="443.70000000000005" fill="#ebecee"/>
<line x1="111.8" x2="1000.0" y1="1056.3" y2="1056.3" stroke="#ffffff" stroke-width="1.9"/>
<line x1="111.8" x2="1000.0" y1="955.5" y2="955.5" stroke="#ffffff" stroke-width="1.9"/>
<line x1="111.8" x2="1000.0" y1="854.6" y2="854.6" stroke="#ffffff" stroke-width="1.9"/>
<line x1="111.8" x2="1000.0" y1="753.8" y2="753.8" stroke="#ffffff" stroke-width="1.9"/>
<line x1="264.1" x2="264.1" y1="683.0" y2="1126.7" stroke="#ffffff" stroke-width="1.9"/>
<line x1="488.5" x2="488.5" y1="683.0" y2="1126.7" stroke="#ffffff" stroke-width="1.9"/>
<line x1="712.9" x2="712.9" y1="683.0" y2="1126.7" stroke="#ffffff" stroke-width="1.9"/>
<line x1="937.3" x2="937.3" y1="683.0" y2="1126.7" stroke="#ffffff" stroke-width="1.9"/>
<line x1="111.8" x2="1000.0" y1="1106.7" y2="1106.7" stroke="#ffffff" stroke-width="3.8"/>
<line x1="111.8" x2="1000.0" y1="1005.9" y2="1005.9" stroke="#ffffff" stroke-width="3.8"/>
<line x1="111.8" x2="1000.0" y1="905.0" y2="905.0" stroke="#ffffff" stroke-width="3.8"/>
<line x1="111.8" x2="1000.0" y1="804.2" y2="804.2" stroke="#ffffff" stroke-width="3.8"/>
<line x1="111.8" x2="1000.0" y1="703.4" y2="703.4" stroke="#ffffff" stroke-width="3.8"/>
<line x1="152.0" x2="152.0" y1="683.0" y2="1126.7" stroke="#ffffff" stroke-width="3.8"/>
<line x1="376.3" x2="376.3" y1="683.0" y2="1126.7" stroke="#ffffff" stroke-width="3.8"/>
<line x1="600.7" x2="600.7" y1="683.0" y2="1126.7" stroke="#ffffff" stroke-width="3.8"/>
<line x1="825.1" x2="825.1" y1="683.0" y2="1126.7" stroke="#ffffff" stroke-width="3.8"/>
<clipPath id="clip-p683"><path d="M152.0,785.4 L163.2,790.8 L174.4,796.1 L185.6,801.4 L196.8,806.6 L208.0,811.8 L219.3,817.0 L230.5,822.1 L241.7,827.2 L252.9,832.3 L264.1,837.3 L275.4,842.2 L286.6,847.2 L297.8,852.0 L309.0,856.9 L320.2,861.6 L331.5,866.4 L342.7,871.0 L353.9,875.7 L365.1,880.2 L376.3,884.7 L387.5,889.2 L398.8,893.5 L410.0,897.9 L421.2,902.1 L432.4,906.3 L443.6,910.4 L454.9,914.4 L466.1,918.4 L477.3,922.3 L488.5,926.1 L499.7,929.7 L511.0,933.3 L522.2,936.8 L533.4,940.2 L544.6,943.4 L555.8,946.5 L567.0,949.5 L578.3,952.3 L589.5,954.9 L600.7,957.4 L611.9,959.8 L623.1,962.0 L634.4,964.0 L645.6,966.0 L656.8,967.8 L668.0,969.5 L679.2,971.2 L690.5,972.7 L701.7,974.2 L712.9,975.7 L724.1,977.1 L735.3,978.5 L746.5,979.9 L757.8,981.2 L769.0,982.5 L780.2,983.8 L791.4,985.1 L802.6,986.4 L813.9,987.7 L825.1,988.9 L836.3,990.2 L847.5,991.4 L858.7,992.7 L870.0,993.9 L881.2,995.2 L892.4,996.4 L903.6,997.6 L914.8,998.9 L926.0,1000.1 L937.3,1001.3 L948.5,1002.6 L959.7,1003.8 L959.7,1052.2 L948.5,1050.5 L937.3,1048.8 L926.0,1047.0 L914.8,1045.1 L903.6,1043.3 L892.4,1041.3 L881.2,1039.4 L870.0,1037.4 L858.7,1035.3 L847.5,1033.3 L836.3,1031.1 L825.1,1029.0 L813.9,1026.8 L802.6,1024.5 L791.4,1022.3 L780.2,1020.0 L769.0,1017.6 L757.8,1015.2 L746.5,1012.8 L735.3,1010.4 L724.1,1008.0 L712.9,1005.5 L701.7,1003.0 L690.5,1000.5 L679.2,998.1 L668.0,995.6 L656.8,993.2 L645.6,990.8 L634.4,988.4 L623.1,986.2 L611.9,984.0 L600.7,981.9 L589.5,979.8 L578.3,977.9 L567.0,976.1 L555.8,974.4 L544.6,972.8 L533.4,971.3 L522.2,969.9 L511.0,968.6 L499.7,967.3 L488.5,966.1 L477.3,964.9 L466.1,963.8 L454.9,962.8 L443.6,961.7 L432.4,960.8 L421.2,959.8 L410.0,958.9 L398.8,958.0 L387.5,957.1 L376.3,956.3 L365.1,955.5 L353.9,954.7 L342.7,953.9 L331.5,953.2 L320.2,952.5 L309.0,951.8 L297.8,951.1 L286.6,950.4 L275.4,949.8 L264.1,949.1 L252.9,948.5 L241.7,947.9 L230.5,947.3 L219.3,946.8 L208.0,946.2 L196.8,945.7 L185.6,945.1 L174.4,944.6 L163.2,944.1 L152.0,943.7Z"/></clipPath>
<path d="M152.0,1090.4 L163.2,1090.6 L174.4,1090.8 L185.6,1091.0 L196.8,1091.3 L208.0,1091.5 L219.3,1091.7 L230.5,1091.9 L241.7,1092.1 L252.9,1092.3 L264.1,1092.4 L275.4,1092.6 L286.6,1092.8 L297.8,1093.0 L309.0,1093.2 L320.2,1093.3 L331.5,1093.5 L342.7,1093.7 L353.9,1093.8 L365.1,1094.0 L376.3,1094.1 L387.5,1094.3 L398.8,1094.4 L410.0,1094.6 L421.2,1094.7 L432.4,1094.8 L443.6,1095.0 L454.9,1095.1 L466.1,1095.2 L477.3,1095.3 L488.5,1095.5 L499.7,1095.6 L511.0,1095.7 L522.2,1095.8 L533.4,1095.9 L544.6,1096.0 L555.8,1096.1 L567.0,1096.2 L578.3,1096.3 L589.5,1096.4 L600.7,1096.4 L611.9,1096.5 L623.1,1096.6 L634.4,1096.7 L645.6,1096.7 L656.8,1096.8 L668.0,1096.9 L679.2,1096.9 L690.5,1097.0 L701.7,1097.1 L712.9,1097.1 L724.1,1097.2 L735.3,1097.2 L746.5,1097.3 L757.8,1097.3 L769.0,1097.4 L780.2,1097.4 L791.4,1097.4 L802.6,1097.5 L813.9,1097.5 L825.1,1097.5 L836.3,1097.6 L847.5,1097.6 L858.7,1097.6 L870.0,1097.7 L881.2,1097.7 L892.4,1097.7 L903.6,1097.7 L914.8,1097.8 L926.0,1097.8 L937.3,1097.8 L948.5,1097.8 L959.7,1097.8 L959.7,1104.2 L948.5,1104.2 L937.3,1104.1 L926.0,1104.0 L914.8,1104.0 L903.6,1103.9 L892.4,1103.9 L881.2,1103.8 L870.0,1103.8 L858.7,1103.7 L847.5,1103.7 L836.3,1103.6 L825.1,1103.6 L813.9,1103.5 L802.6,1103.5 L791.4,1103.4 L780.2,1103.3 L769.0,1103.3 L757.8,1103.2 L746.5,1103.2 L735.3,1103.1 L724.1,1103.1 L712.9,1103.1 L701.7,1103.0 L690.5,1103.0 L679.2,1102.9 L668.0,1102.9 L656.8,1102.9 L645.6,1102.8 L634.4,1102.8 L623.1,1102.8 L611.9,1102.7 L600.7,1102.7 L589.5,1102.7 L578.3,1102.7 L567.0,1102.6 L555.8,1102.6 L544.6,1102.6 L533.4,1102.6 L522.2,1102.6 L511.0,1102.6 L499.7,1102.6 L488.5,1102.6 L477.3,1102.6 L466.1,1102.6 L454.9,1102.6 L443.6,1102.6 L432.4,1102.6 L421.2,1102.6 L410.0,1102.6 L398.8,1102.6 L387.5,1102.6 L376.3,1102.6 L365.1,1102.6 L353.9,1102.7 L342.7,1102.7 L331.5,1102.7 L320.2,1102.7 L309.0,1102.7 L297.8,1102.8 L286.6,1102.8 L275.4,1102.8 L264.1,1102.8 L252.9,1102.9 L241.7,1102.9 L230.5,1102.9 L219.3,1102.9 L208.0,1103.0 L196.8,1103.0 L185.6,1103.0 L174.4,1103.0 L163.2,1103.1 L152.0,1103.1Z" fill="#ffb929" fill-opacity="0.4" stroke="none"/>
<path d="M152.0,1090.4 L163.2,1090.6 L174.4,1090.8 L185.6,1091.0 L196.8,1091.3 L208.0,1091.5 L219.3,1091.7 L230.5,1091.9 L241.7,1092.1 L252.9,1092.3 L264.1,1092.4 L275.4,1092.6 L286.6,1092.8 L297.8,1093.0 L309.0,1093.2 L320.2,1093.3 L331.5,1093.5 L342.7,1093.7 L353.9,1093.8 L365.1,1094.0 L376.3,1094.1 L387.5,1094.3 L398.8,1094.4 L410.0,1094.6 L421.2,1094.7 L432.4,1094.8 L443.6,1095.0 L454.9,1095.1 L466.1,1095.2 L477.3,1095.3 L488.5,1095.5 L499.7,1095.6 L511.0,1095.7 L522.2,1095.8 L533.4,1095.9 L544.6,1096.0 L555.8,1096.1 L567.0,1096.2 L578.3,1096.3 L589.5,1096.4 L600.7,1096.4 L611.9,1096.5 L623.1,1096.6 L634.4,1096.7 L645.6,1096.7 L656.8,1096.8 L668.0,1096.9 L679.2,1096.9 L690.5,1097.0 L701.7,1097.1 L712.9,1097.1 L724.1,1097.2 L735.3,1097.2 L746.5,1097.3 L757.8,1097.3 L769.0,1097.4 L780.2,1097.4 L791.4,1097.4 L802.6,1097.5 L813.9,1097.5 L825.1,1097.5 L836.3,1097.6 L847.5,1097.6 L858.7,1097.6 L870.0,1097.7 L881.2,1097.7 L892.4,1097.7 L903.6,1097.7 L914.8,1097.8 L926.0,1097.8 L937.3,1097.8 L948.5,1097.8 L959.7,1097.8" fill="none" stroke="#f9a31b" stroke-width="3.5" stroke-linejoin="round"/>
<path d="M152.0,1103.1 L163.2,1103.1 L174.4,1103.0 L185.6,1103.0 L196.8,1103.0 L208.0,1103.0 L219.3,1102.9 L230.5,1102.9 L241.7,1102.9 L252.9,1102.9 L264.1,1102.8 L275.4,1102.8 L286.6,1102.8 L297.8,1102.8 L309.0,1102.7 L320.2,1102.7 L331.5,1102.7 L342.7,1102.7 L353.9,1102.7 L365.1,1102.6 L376.3,1102.6 L387.5,1102.6 L398.8,1102.6 L410.0,1102.6 L421.2,1102.6 L432.4,1102.6 L443.6,1102.6 L454.9,1102.6 L466.1,1102.6 L477.3,1102.6 L488.5,1102.6 L499.7,1102.6 L511.0,1102.6 L522.2,1102.6 L533.4,1102.6 L544.6,1102.6 L555.8,1102.6 L567.0,1102.6 L578.3,1102.7 L589.5,1102.7 L600.7,1102.7 L611.9,1102.7 L623.1,1102.8 L634.4,1102.8 L645.6,1102.8 L656.8,1102.9 L668.0,1102.9 L679.2,1102.9 L690.5,1103.0 L701.7,1103.0 L712.9,1103.1 L724.1,1103.1 L735.3,1103.1 L746.5,1103.2 L757.8,1103.2 L769.0,1103.3 L780.2,1103.3 L791.4,1103.4 L802.6,1103.5 L813.9,1103.5 L825.1,1103.6 L836.3,1103.6 L847.5,1103.7 L858.7,1103.7 L870.0,1103.8 L881.2,1103.8 L892.4,1103.9 L903.6,1103.9 L914.8,1104.0 L926.0,1104.0 L937.3,1104.1 L948.5,1104.2 L959.7,1104.2" fill="none" stroke="#f9a31b" stroke-width="3.5" stroke-linejoin="round"/>
<path d="M152.0,1097.5 L163.2,1097.6 L174.4,1097.7 L185.6,1097.7 L196.8,1097.8 L208.0,1097.8 L219.3,1097.9 L230.5,1097.9 L241.7,1098.0 L252.9,1098.1 L264.1,1098.1 L275.4,1098.2 L286.6,1098.2 L297.8,1098.3 L309.0,1098.4 L320.2,1098.4 L331.5,1098.5 L342.7,1098.5 L353.9,1098.6 L365.1,1098.6 L376.3,1098.7 L387.5,1098.7 L398.8,1098.8 L410.0,1098.9 L421.2,1098.9 L432.4,1099.0 L443.6,1099.0 L454.9,1099.1 L466.1,1099.1 L477.3,1099.2 L488.5,1099.2 L499.7,1099.3 L511.0,1099.3 L522.2,1099.4 L533.4,1099.5 L544.6,1099.5 L555.8,1099.6 L567.0,1099.6 L578.3,1099.7 L589.5,1099.7 L600.7,1099.8 L611.9,1099.8 L623.1,1099.9 L634.4,1099.9 L645.6,1100.0 L656.8,1100.0 L668.0,1100.1 L679.2,1100.1 L690.5,1100.2 L701.7,1100.2 L712.9,1100.3 L724.1,1100.3 L735.3,1100.4 L746.5,1100.4 L757.8,1100.5 L769.0,1100.5 L780.2,1100.6 L791.4,1100.6 L802.6,1100.7 L813.9,1100.7 L825.1,1100.8 L836.3,1100.8 L847.5,1100.9 L858.7,1100.9 L870.0,1101.0 L881.2,1101.0 L892.4,1101.1 L903.6,1101.1 L914.8,1101.1 L926.0,1101.2 L937.3,1101.2 L948.5,1101.3 L959.7,1101.3" fill="none" stroke="#f9a31b" stroke-width="3.5" stroke-linejoin="round"/>
<path d="M152.0,1096.0 L163.2,1095.7 L174.4,1095.5 L185.6,1095.2 L196.8,1094.9 L208.0,1094.6 L219.3,1094.4 L230.5,1094.1 L241.7,1093.8 L252.9,1093.4 L264.1,1093.1 L275.4,1092.8 L286.6,1092.4 L297.8,1092.1 L309.0,1091.7 L320.2,1091.3 L331.5,1090.9 L342.7,1090.5 L353.9,1090.1 L365.1,1089.6 L376.3,1089.2 L387.5,1088.7 L398.8,1088.2 L410.0,1087.7 L421.2,1087.2 L432.4,1086.7 L443.6,1086.1 L454.9,1085.5 L466.1,1084.9 L477.3,1084.3 L488.5,1083.7 L499.7,1083.0 L511.0,1082.3 L522.2,1081.6 L533.4,1080.9 L544.6,1080.1 L555.8,1079.3 L567.0,1078.4 L578.3,1077.6 L589.5,1076.7 L600.7,1075.7 L611.9,1074.7 L623.1,1073.7 L634.4,1072.6 L645.6,1071.5 L656.8,1070.3 L668.0,1069.1 L679.2,1067.8 L690.5,1066.5 L701.7,1065.1 L712.9,1063.7 L724.1,1062.2 L735.3,1060.7 L746.5,1059.1 L757.8,1057.4 L769.0,1055.7 L780.2,1053.9 L791.4,1052.0 L802.6,1050.1 L813.9,1048.1 L825.1,1046.0 L836.3,1043.9 L847.5,1041.7 L858.7,1039.4 L870.0,1037.1 L881.2,1034.7 L892.4,1032.2 L903.6,1029.7 L914.8,1027.1 L926.0,1024.4 L937.3,1021.7 L948.5,1018.9 L959.7,1016.0 L959.7,1068.1 L948.5,1068.7 L937.3,1069.2 L926.0,1069.8 L914.8,1070.4 L903.6,1070.9 L892.4,1071.5 L881.2,1072.1 L870.0,1072.7 L858.7,1073.3 L847.5,1073.9 L836.3,1074.5 L825.1,1075.1 L813.9,1075.7 L802.6,1076.3 L791.4,1076.9 L780.2,1077.5 L769.0,1078.1 L757.8,1078.7 L746.5,1079.4 L735.3,1080.0 L724.1,1080.6 L712.9,1081.2 L701.7,1081.8 L690.5,1082.5 L679.2,1083.1 L668.0,1083.7 L656.8,1084.3 L645.6,1085.0 L634.4,1085.6 L623.1,1086.2 L611.9,1086.8 L600.7,1087.4 L589.5,1088.0 L578.3,1088.6 L567.0,1089.2 L555.8,1089.8 L544.6,1090.4 L533.4,1091.0 L522.2,1091.6 L511.0,1092.1 L499.7,1092.7 L488.5,1093.2 L477.3,1093.7 L466.1,1094.2 L454.9,1094.7 L443.6,1095.2 L432.4,1095.7 L421.2,1096.1 L410.0,1096.5 L398.8,1097.0 L387.5,1097.4 L376.3,1097.8 L365.1,1098.1 L353.9,1098.5 L342.7,1098.8 L331.5,1099.2 L320.2,1099.5 L309.0,1099.8 L297.8,1100.1 L286.6,1100.4 L275.4,1100.7 L264.1,1100.9 L252.9,1101.2 L241.7,1101.4 L230.5,1101.6 L219.3,1101.8 L208.0,1102.1 L196.8,1102.3 L185.6,1102.4 L174.4,1102.6 L163.2,1102.8 L152.0,1103.0Z" fill="#fb2c2f" fill-opacity="0.4" stroke="none"/>
<path d="M152.0,1096.0 L163.2,1095.7 L174.4,1095.5 L185.6,1095.2 L196.8,1094.9 L208.0,1094.6 L219.3,1094.4 L230.5,1094.1 L241.7,1093.8 L252.9,1093.4 L264.1,1093.1 L275.4,1092.8 L286.6,1092.4 L297.8,1092.1 L309.0,1091.7 L320.2,1091.3 L331.5,1090.9 L342.7,1090.5 L353.9,1090.1 L365.1,1089.6 L376.3,1089.2 L387.5,1088.7 L398.8,1088.2 L410.0,1087.7 L421.2,1087.2 L432.4,1086.7 L443.6,1086.1 L454.9,1085.5 L466.1,1084.9 L477.3,1084.3 L488.5,1083.7 L499.7,1083.0 L511.0,1082.3 L522.2,1081.6 L533.4,1080.9 L544.6,1080.1 L555.8,1079.3 L567.0,1078.4 L578.3,1077.6 L589.5,1076.7 L600.7,1075.7 L611.9,1074.7 L623.1,1073.7 L634.4,1072.6 L645.6,1071.5 L656.8,1070.3 L668.0,1069.1 L679.2,1067.8 L690.5,1066.5 L701.7,1065.1 L712.9,1063.7 L724.1,1062.2 L735.3,1060.7 L746.5,1059.1 L757.8,1057.4 L769.0,1055.7 L780.2,1053.9 L791.4,1052.0 L802.6,1050.1 L813.9,1048.1 L825.1,1046.0 L836.3,1043.9 L847.5,1041.7 L858.7,1039.4 L870.0,1037.1 L881.2,1034.7 L892.4,1032.2 L903.6,1029.7 L914.8,1027.1 L926.0,1024.4 L937.3,1021.7 L948.5,1018.9 L959.7,1016.0" fill="none" stroke="#ed1c24" stroke-width="3.5" stroke-linejoin="round"/>
<path d="M152.0,1103.0 L163.2,1102.8 L174.4,1102.6 L185.6,1102.4 L196.8,1102.3 L208.0,1102.1 L219.3,1101.8 L230.5,1101.6 L241.7,1101.4 L252.9,1101.2 L264.1,1100.9 L275.4,1100.7 L286.6,1100.4 L297.8,1100.1 L309.0,1099.8 L320.2,1099.5 L331.5,1099.2 L342.7,1098.8 L353.9,1098.5 L365.1,1098.1 L376.3,1097.8 L387.5,1097.4 L398.8,1097.0 L410.0,1096.5 L421.2,1096.1 L432.4,1095.7 L443.6,1095.2 L454.9,1094.7 L466.1,1094.2 L477.3,1093.7 L488.5,1093.2 L499.7,1092.7 L511.0,1092.1 L522.2,1091.6 L533.4,1091.0 L544.6,1090.4 L555.8,1089.8 L567.0,1089.2 L578.3,1088.6 L589.5,1088.0 L600.7,1087.4 L611.9,1086.8 L623.1,1086.2 L634.4,1085.6 L645.6,1085.0 L656.8,1084.3 L668.0,1083.7 L679.2,1083.1 L690.5,1082.5 L701.7,1081.8 L712.9,1081.2 L724.1,1080.6 L735.3,1080.0 L746.5,1079.4 L757.8,1078.7 L769.0,1078.1 L780.2,1077.5 L791.4,1076.9 L802.6,1076.3 L813.9,1075.7 L825.1,1075.1 L836.3,1074.5 L847.5,1073.9 L858.7,1073.3 L870.0,1072.7 L881.2,1072.1 L892.4,1071.5 L903.6,1070.9 L914.8,1070.4 L926.0,1069.8 L937.3,1069.2 L948.5,1068.7 L959.7,1068.1" fill="none" stroke="#ed1c24" stroke-width="3.5" stroke-linejoin="round"/>
<path d="M152.0,1099.7 L163.2,1099.4 L174.4,1099.2 L185.6,1099.0 L196.8,1098.7 L208.0,1098.5 L219.3,1098.2 L230.5,1098.0 L241.7,1097.7 L252.9,1097.4 L264.1,1097.1 L275.4,1096.8 L286.6,1096.5 L297.8,1096.2 L309.0,1095.8 L320.2,1095.5 L331.5,1095.1 L342.7,1094.8 L353.9,1094.4 L365.1,1094.0 L376.3,1093.6 L387.5,1093.1 L398.8,1092.7 L410.0,1092.3 L421.2,1091.8 L432.4,1091.3 L443.6,1090.8 L454.9,1090.3 L466.1,1089.8 L477.3,1089.2 L488.5,1088.6 L499.7,1088.1 L511.0,1087.5 L522.2,1086.9 L533.4,1086.2 L544.6,1085.6 L555.8,1084.9 L567.0,1084.2 L578.3,1083.5 L589.5,1082.8 L600.7,1082.0 L611.9,1081.2 L623.1,1080.5 L634.4,1079.6 L645.6,1078.8 L656.8,1078.0 L668.0,1077.1 L679.2,1076.2 L690.5,1075.3 L701.7,1074.3 L712.9,1073.4 L724.1,1072.4 L735.3,1071.4 L746.5,1070.4 L757.8,1069.3 L769.0,1068.2 L780.2,1067.2 L791.4,1066.1 L802.6,1064.9 L813.9,1063.8 L825.1,1062.6 L836.3,1061.4 L847.5,1060.2 L858.7,1059.0 L870.0,1057.7 L881.2,1056.5 L892.4,1055.2 L903.6,1053.9 L914.8,1052.6 L926.0,1051.3 L937.3,1049.9 L948.5,1048.6 L959.7,1047.2" fill="none" stroke="#ed1c24" stroke-width="3.5" stroke-linejoin="round"/>
<path d="M152.0,785.4 L163.2,790.8 L174.4,796.1 L185.6,801.4 L196.8,806.6 L208.0,811.8 L219.3,817.0 L230.5,822.1 L241.7,827.2 L252.9,832.3 L264.1,837.3 L275.4,842.2 L286.6,847.2 L297.8,852.0 L309.0,856.9 L320.2,861.6 L331.5,866.4 L342.7,871.0 L353.9,875.7 L365.1,880.2 L376.3,884.7 L387.5,889.2 L398.8,893.5 L410.0,897.9 L421.2,902.1 L432.4,906.3 L443.6,910.4 L454.9,914.4 L466.1,918.4 L477.3,922.3 L488.5,926.1 L499.7,929.7 L511.0,933.3 L522.2,936.8 L533.4,940.2 L544.6,943.4 L555.8,946.5 L567.0,949.5 L578.3,952.3 L589.5,954.9 L600.7,957.4 L611.9,959.8 L623.1,962.0 L634.4,964.0 L645.6,966.0 L656.8,967.8 L668.0,969.5 L679.2,971.2 L690.5,972.7 L701.7,974.2 L712.9,975.7 L724.1,977.1 L735.3,978.5 L746.5,979.9 L757.8,981.2 L769.0,982.5 L780.2,983.8 L791.4,985.1 L802.6,986.4 L813.9,987.7 L825.1,988.9 L836.3,990.2 L847.5,991.4 L858.7,992.7 L870.0,993.9 L881.2,995.2 L892.4,996.4 L903.6,997.6 L914.8,998.9 L926.0,1000.1 L937.3,1001.3 L948.5,1002.6 L959.7,1003.8 L959.7,1052.2 L948.5,1050.5 L937.3,1048.8 L926.0,1047.0 L914.8,1045.1 L903.6,1043.3 L892.4,1041.3 L881.2,1039.4 L870.0,1037.4 L858.7,1035.3 L847.5,1033.3 L836.3,1031.1 L825.1,1029.0 L813.9,1026.8 L802.6,1024.5 L791.4,1022.3 L780.2,1020.0 L769.0,1017.6 L757.8,1015.2 L746.5,1012.8 L735.3,1010.4 L724.1,1008.0 L712.9,1005.5 L701.7,1003.0 L690.5,1000.5 L679.2,998.1 L668.0,995.6 L656.8,993.2 L645.6,990.8 L634.4,988.4 L623.1,986.2 L611.9,984.0 L600.7,981.9 L589.5,979.8 L578.3,977.9 L567.0,976.1 L555.8,974.4 L544.6,972.8 L533.4,971.3 L522.2,969.9 L511.0,968.6 L499.7,967.3 L488.5,966.1 L477.3,964.9 L466.1,963.8 L454.9,962.8 L443.6,961.7 L432.4,960.8 L421.2,959.8 L410.0,958.9 L398.8,958.0 L387.5,957.1 L376.3,956.3 L365.1,955.5 L353.9,954.7 L342.7,953.9 L331.5,953.2 L320.2,952.5 L309.0,951.8 L297.8,951.1 L286.6,950.4 L275.4,949.8 L264.1,949.1 L252.9,948.5 L241.7,947.9 L230.5,947.3 L219.3,946.8 L208.0,946.2 L196.8,945.7 L185.6,945.1 L174.4,944.6 L163.2,944.1 L152.0,943.7Z" fill="#382ba3" fill-opacity="0.42" stroke="none"/>
<path d="M152.0,874.2 L163.2,876.7 L174.4,879.2 L185.6,881.7 L196.8,884.2 L208.0,886.7 L219.3,889.2 L230.5,891.7 L241.7,894.2 L252.9,896.6 L264.1,899.1 L275.4,901.6 L286.6,904.0 L297.8,906.5 L309.0,909.0 L320.2,911.4 L331.5,913.9 L342.7,916.3 L353.9,918.7 L365.1,921.1 L376.3,923.6 L387.5,926.0 L398.8,928.4 L410.0,930.8 L421.2,933.1 L432.4,935.5 L443.6,937.9 L454.9,940.2 L466.1,942.6 L477.3,944.9 L488.5,947.2 L499.7,949.6 L511.0,951.9 L522.2,954.2 L533.4,956.4 L544.6,958.7 L555.8,961.0 L567.0,963.2 L578.3,965.4 L589.5,967.6 L600.7,969.8 L611.9,972.0 L623.1,974.2 L634.4,976.4 L645.6,978.5 L656.8,980.6 L668.0,982.7 L679.2,984.8 L690.5,986.9 L701.7,989.0 L712.9,991.0 L724.1,993.0 L735.3,995.1 L746.5,997.1 L757.8,999.0 L769.0,1001.0 L780.2,1002.9 L791.4,1004.8 L802.6,1006.8 L813.9,1008.6 L825.1,1010.5 L836.3,1012.4 L847.5,1014.2 L858.7,1016.0 L870.0,1017.8 L881.2,1019.5 L892.4,1021.3 L903.6,1023.0 L914.8,1024.7 L926.0,1026.4 L937.3,1028.1 L948.5,1029.7 L959.7,1031.4" fill="none" stroke="#3852a5" stroke-width="3.5" stroke-linejoin="round"/>
<clipPath id="clipr-p683"><path d="M152.0,1096.0 L163.2,1095.7 L174.4,1095.5 L185.6,1095.2 L196.8,1094.9 L208.0,1094.6 L219.3,1094.4 L230.5,1094.1 L241.7,1093.8 L252.9,1093.4 L264.1,1093.1 L275.4,1092.8 L286.6,1092.4 L297.8,1092.1 L309.0,1091.7 L320.2,1091.3 L331.5,1090.9 L342.7,1090.5 L353.9,1090.1 L365.1,1089.6 L376.3,1089.2 L387.5,1088.7 L398.8,1088.2 L410.0,1087.7 L421.2,1087.2 L432.4,1086.7 L443.6,1086.1 L454.9,1085.5 L466.1,1084.9 L477.3,1084.3 L488.5,1083.7 L499.7,1083.0 L511.0,1082.3 L522.2,1081.6 L533.4,1080.9 L544.6,1080.1 L555.8,1079.3 L567.0,1078.4 L578.3,1077.6 L589.5,1076.7 L600.7,1075.7 L611.9,1074.7 L623.1,1073.7 L634.4,1072.6 L645.6,1071.5 L656.8,1070.3 L668.0,1069.1 L679.2,1067.8 L690.5,1066.5 L701.7,1065.1 L712.9,1063.7 L724.1,1062.2 L735.3,1060.7 L746.5,1059.1 L757.8,1057.4 L769.0,1055.7 L780.2,1053.9 L791.4,1052.0 L802.6,1050.1 L813.9,1048.1 L825.1,1046.0 L836.3,1043.9 L847.5,1041.7 L858.7,1039.4 L870.0,1037.1 L881.2,1034.7 L892.4,1032.2 L903.6,1029.7 L914.8,1027.1 L926.0,1024.4 L937.3,1021.7 L948.5,1018.9 L959.7,1016.0 L959.7,1068.1 L948.5,1068.7 L937.3,1069.2 L926.0,1069.8 L914.8,1070.4 L903.6,1070.9 L892.4,1071.5 L881.2,1072.1 L870.0,1072.7 L858.7,1073.3 L847.5,1073.9 L836.3,1074.5 L825.1,1075.1 L813.9,1075.7 L802.6,1076.3 L791.4,1076.9 L780.2,1077.5 L769.0,1078.1 L757.8,1078.7 L746.5,1079.4 L735.3,1080.0 L724.1,1080.6 L712.9,1081.2 L701.7,1081.8 L690.5,1082.5 L679.2,1083.1 L668.0,1083.7 L656.8,1084.3 L645.6,1085.0 L634.4,1085.6 L623.1,1086.2 L611.9,1086.8 L600.7,1087.4 L589.5,1088.0 L578.3,1088.6 L567.0,1089.2 L555.8,1089.8 L544.6,1090.4 L533.4,1091.0 L522.2,1091.6 L511.0,1092.1 L499.7,1092.7 L488.5,1093.2 L477.3,1093.7 L466.1,1094.2 L454.9,1094.7 L443.6,1095.2 L432.4,1095.7 L421.2,1096.1 L410.0,1096.5 L398.8,1097.0 L387.5,1097.4 L376.3,1097.8 L365.1,1098.1 L353.9,1098.5 L342.7,1098.8 L331.5,1099.2 L320.2,1099.5 L309.0,1099.8 L297.8,1100.1 L286.6,1100.4 L275.4,1100.7 L264.1,1100.9 L252.9,1101.2 L241.7,1101.4 L230.5,1101.6 L219.3,1101.8 L208.0,1102.1 L196.8,1102.3 L185.6,1102.4 L174.4,1102.6 L163.2,1102.8 L152.0,1103.0Z"/></clipPath>
<g clip-path="url(#clip-p683)">
<path d="M152.0,1096.0 L163.2,1095.7 L174.4,1095.5 L185.6,1095.2 L196.8,1094.9 L208.0,1094.6 L219.3,1094.4 L230.5,1094.1 L241.7,1093.8 L252.9,1093.4 L264.1,1093.1 L275.4,1092.8 L286.6,1092.4 L297.8,1092.1 L309.0,1091.7 L320.2,1091.3 L331.5,1090.9 L342.7,1090.5 L353.9,1090.1 L365.1,1089.6 L376.3,1089.2 L387.5,1088.7 L398.8,1088.2 L410.0,1087.7 L421.2,1087.2 L432.4,1086.7 L443.6,1086.1 L454.9,1085.5 L466.1,1084.9 L477.3,1084.3 L488.5,1083.7 L499.7,1083.0 L511.0,1082.3 L522.2,1081.6 L533.4,1080.9 L544.6,1080.1 L555.8,1079.3 L567.0,1078.4 L578.3,1077.6 L589.5,1076.7 L600.7,1075.7 L611.9,1074.7 L623.1,1073.7 L634.4,1072.6 L645.6,1071.5 L656.8,1070.3 L668.0,1069.1 L679.2,1067.8 L690.5,1066.5 L701.7,1065.1 L712.9,1063.7 L724.1,1062.2 L735.3,1060.7 L746.5,1059.1 L757.8,1057.4 L769.0,1055.7 L780.2,1053.9 L791.4,1052.0 L802.6,1050.1 L813.9,1048.1 L825.1,1046.0 L836.3,1043.9 L847.5,1041.7 L858.7,1039.4 L870.0,1037.1 L881.2,1034.7 L892.4,1032.2 L903.6,1029.7 L914.8,1027.1 L926.0,1024.4 L937.3,1021.7 L948.5,1018.9 L959.7,1016.0 L959.7,1068.1 L948.5,1068.7 L937.3,1069.2 L926.0,1069.8 L914.8,1070.4 L903.6,1070.9 L892.4,1071.5 L881.2,1072.1 L870.0,1072.7 L858.7,1073.3 L847.5,1073.9 L836.3,1074.5 L825.1,1075.1 L813.9,1075.7 L802.6,1076.3 L791.4,1076.9 L780.2,1077.5 L769.0,1078.1 L757.8,1078.7 L746.5,1079.4 L735.3,1080.0 L724.1,1080.6 L712.9,1081.2 L701.7,1081.8 L690.5,1082.5 L679.2,1083.1 L668.0,1083.7 L656.8,1084.3 L645.6,1085.0 L634.4,1085.6 L623.1,1086.2 L611.9,1086.8 L600.7,1087.4 L589.5,1088.0 L578.3,1088.6 L567.0,1089.2 L555.8,1089.8 L544.6,1090.4 L533.4,1091.0 L522.2,1091.6 L511.0,1092.1 L499.7,1092.7 L488.5,1093.2 L477.3,1093.7 L466.1,1094.2 L454.9,1094.7 L443.6,1095.2 L432.4,1095.7 L421.2,1096.1 L410.0,1096.5 L398.8,1097.0 L387.5,1097.4 L376.3,1097.8 L365.1,1098.1 L353.9,1098.5 L342.7,1098.8 L331.5,1099.2 L320.2,1099.5 L309.0,1099.8 L297.8,1100.1 L286.6,1100.4 L275.4,1100.7 L264.1,1100.9 L252.9,1101.2 L241.7,1101.4 L230.5,1101.6 L219.3,1101.8 L208.0,1102.1 L196.8,1102.3 L185.6,1102.4 L174.4,1102.6 L163.2,1102.8 L152.0,1103.0Z" fill="#9e6aaf" fill-opacity="0.92" stroke="none"/>
<g clip-path="url(#clipr-p683)"><path d="M152.0,874.2 L163.2,876.7 L174.4,879.2 L185.6,881.7 L196.8,884.2 L208.0,886.7 L219.3,889.2 L230.5,891.7 L241.7,894.2 L252.9,896.6 L264.1,899.1 L275.4,901.6 L286.6,904.0 L297.8,906.5 L309.0,909.0 L320.2,911.4 L331.5,913.9 L342.7,916.3 L353.9,918.7 L365.1,921.1 L376.3,923.6 L387.5,926.0 L398.8,928.4 L410.0,930.8 L421.2,933.1 L432.4,935.5 L443.6,937.9 L454.9,940.2 L466.1,942.6 L477.3,944.9 L488.5,947.2 L499.7,949.6 L511.0,951.9 L522.2,954.2 L533.4,956.4 L544.6,958.7 L555.8,961.0 L567.0,963.2 L578.3,965.4 L589.5,967.6 L600.7,969.8 L611.9,972.0 L623.1,974.2 L634.4,976.4 L645.6,978.5 L656.8,980.6 L668.0,982.7 L679.2,984.8 L690.5,986.9 L701.7,989.0 L712.9,991.0 L724.1,993.0 L735.3,995.1 L746.5,997.1 L757.8,999.0 L769.0,1001.0 L780.2,1002.9 L791.4,1004.8 L802.6,1006.8 L813.9,1008.6 L825.1,1010.5 L836.3,1012.4 L847.5,1014.2 L858.7,1016.0 L870.0,1017.8 L881.2,1019.5 L892.4,1021.3 L903.6,1023.0 L914.8,1024.7 L926.0,1026.4 L937.3,1028.1 L948.5,1029.7 L959.7,1031.4" fill="none" stroke="#433f9e" stroke-width="3.5" stroke-linejoin="round"/></g>
<path d="M152.0,1096.0 L163.2,1095.7 L174.4,1095.5 L185.6,1095.2 L196.8,1094.9 L208.0,1094.6 L219.3,1094.4 L230.5,1094.1 L241.7,1093.8 L252.9,1093.4 L264.1,1093.1 L275.4,1092.8 L286.6,1092.4 L297.8,1092.1 L309.0,1091.7 L320.2,1091.3 L331.5,1090.9 L342.7,1090.5 L353.9,1090.1 L365.1,1089.6 L376.3,1089.2 L387.5,1088.7 L398.8,1088.2 L410.0,1087.7 L421.2,1087.2 L432.4,1086.7 L443.6,1086.1 L454.9,1085.5 L466.1,1084.9 L477.3,1084.3 L488.5,1083.7 L499.7,1083.0 L511.0,1082.3 L522.2,1081.6 L533.4,1080.9 L544.6,1080.1 L555.8,1079.3 L567.0,1078.4 L578.3,1077.6 L589.5,1076.7 L600.7,1075.7 L611.9,1074.7 L623.1,1073.7 L634.4,1072.6 L645.6,1071.5 L656.8,1070.3 L668.0,1069.1 L679.2,1067.8 L690.5,1066.5 L701.7,1065.1 L712.9,1063.7 L724.1,1062.2 L735.3,1060.7 L746.5,1059.1 L757.8,1057.4 L769.0,1055.7 L780.2,1053.9 L791.4,1052.0 L802.6,1050.1 L813.9,1048.1 L825.1,1046.0 L836.3,1043.9 L847.5,1041.7 L858.7,1039.4 L870.0,1037.1 L881.2,1034.7 L892.4,1032.2 L903.6,1029.7 L914.8,1027.1 L926.0,1024.4 L937.3,1021.7 L948.5,1018.9 L959.7,1016.0" fill="none" stroke="#b0164f" stroke-width="3.5" stroke-linejoin="round"/>
<path d="M152.0,1103.0 L163.2,1102.8 L174.4,1102.6 L185.6,1102.4 L196.8,1102.3 L208.0,1102.1 L219.3,1101.8 L230.5,1101.6 L241.7,1101.4 L252.9,1101.2 L264.1,1100.9 L275.4,1100.7 L286.6,1100.4 L297.8,1100.1 L309.0,1099.8 L320.2,1099.5 L331.5,1099.2 L342.7,1098.8 L353.9,1098.5 L365.1,1098.1 L376.3,1097.8 L387.5,1097.4 L398.8,1097.0 L410.0,1096.5 L421.2,1096.1 L432.4,1095.7 L443.6,1095.2 L454.9,1094.7 L466.1,1094.2 L477.3,1093.7 L488.5,1093.2 L499.7,1092.7 L511.0,1092.1 L522.2,1091.6 L533.4,1091.0 L544.6,1090.4 L555.8,1089.8 L567.0,1089.2 L578.3,1088.6 L589.5,1088.0 L600.7,1087.4 L611.9,1086.8 L623.1,1086.2 L634.4,1085.6 L645.6,1085.0 L656.8,1084.3 L668.0,1083.7 L679.2,1083.1 L690.5,1082.5 L701.7,1081.8 L712.9,1081.2 L724.1,1080.6 L735.3,1080.0 L746.5,1079.4 L757.8,1078.7 L769.0,1078.1 L780.2,1077.5 L791.4,1076.9 L802.6,1076.3 L813.9,1075.7 L825.1,1075.1 L836.3,1074.5 L847.5,1073.9 L858.7,1073.3 L870.0,1072.7 L881.2,1072.1 L892.4,1071.5 L903.6,1070.9 L914.8,1070.4 L926.0,1069.8 L937.3,1069.2 L948.5,1068.7 L959.7,1068.1" fill="none" stroke="#b0164f" stroke-width="3.5" stroke-linejoin="round"/>
<path d="M152.0,1099.7 L163.2,1099.4 L174.4,1099.2 L185.6,1099.0 L196.8,1098.7 L208.0,1098.5 L219.3,1098.2 L230.5,1098.0 L241.7,1097.7 L252.9,1097.4 L264.1,1097.1 L275.4,1096.8 L286.6,1096.5 L297.8,1096.2 L309.0,1095.8 L320.2,1095.5 L331.5,1095.1 L342.7,1094.8 L353.9,1094.4 L365.1,1094.0 L376.3,1093.6 L387.5,1093.1 L398.8,1092.7 L410.0,1092.3 L421.2,1091.8 L432.4,1091.3 L443.6,1090.8 L454.9,1090.3 L466.1,1089.8 L477.3,1089.2 L488.5,1088.6 L499.7,1088.1 L511.0,1087.5 L522.2,1086.9 L533.4,1086.2 L544.6,1085.6 L555.8,1084.9 L567.0,1084.2 L578.3,1083.5 L589.5,1082.8 L600.7,1082.0 L611.9,1081.2 L623.1,1080.5 L634.4,1079.6 L645.6,1078.8 L656.8,1078.0 L668.0,1077.1 L679.2,1076.2 L690.5,1075.3 L701.7,1074.3 L712.9,1073.4 L724.1,1072.4 L735.3,1071.4 L746.5,1070.4 L757.8,1069.3 L769.0,1068.2 L780.2,1067.2 L791.4,1066.1 L802.6,1064.9 L813.9,1063.8 L825.1,1062.6 L836.3,1061.4 L847.5,1060.2 L858.7,1059.0 L870.0,1057.7 L881.2,1056.5 L892.4,1055.2 L903.6,1053.9 L914.8,1052.6 L926.0,1051.3 L937.3,1049.9 L948.5,1048.6 L959.7,1047.2" fill="none" stroke="#b0164f" stroke-width="3.5" stroke-linejoin="round"/>
</g>
<path d="M152.0,785.4 L163.2,790.8 L174.4,796.1 L185.6,801.4 L196.8,806.6 L208.0,811.8 L219.3,817.0 L230.5,822.1 L241.7,827.2 L252.9,832.3 L264.1,837.3 L275.4,842.2 L286.6,847.2 L297.8,852.0 L309.0,856.9 L320.2,861.6 L331.5,866.4 L342.7,871.0 L353.9,875.7 L365.1,880.2 L376.3,884.7 L387.5,889.2 L398.8,893.5 L410.0,897.9 L421.2,902.1 L432.4,906.3 L443.6,910.4 L454.9,914.4 L466.1,918.4 L477.3,922.3 L488.5,926.1 L499.7,929.7 L511.0,933.3 L522.2,936.8 L533.4,940.2 L544.6,943.4 L555.8,946.5 L567.0,949.5 L578.3,952.3 L589.5,954.9 L600.7,957.4 L611.9,959.8 L623.1,962.0 L634.4,964.0 L645.6,966.0 L656.8,967.8 L668.0,969.5 L679.2,971.2 L690.5,972.7 L701.7,974.2 L712.9,975.7 L724.1,977.1 L735.3,978.5 L746.5,979.9 L757.8,981.2 L769.0,982.5 L780.2,983.8 L791.4,985.1 L802.6,986.4 L813.9,987.7 L825.1,988.9 L836.3,990.2 L847.5,991.4 L858.7,992.7 L870.0,993.9 L881.2,995.2 L892.4,996.4 L903.6,997.6 L914.8,998.9 L926.0,1000.1 L937.3,1001.3 L948.5,1002.6 L959.7,1003.8" fill="none" stroke="#3852a5" stroke-width="3.5" stroke-linejoin="round"/>
<path d="M152.0,943.7 L163.2,944.1 L174.4,944.6 L185.6,945.1 L196.8,945.7 L208.0,946.2 L219.3,946.8 L230.5,947.3 L241.7,947.9 L252.9,948.5 L264.1,949.1 L275.4,949.8 L286.6,950.4 L297.8,951.1 L309.0,951.8 L320.2,952.5 L331.5,953.2 L342.7,953.9 L353.9,954.7 L365.1,955.5 L376.3,956.3 L387.5,957.1 L398.8,958.0 L410.0,958.9 L421.2,959.8 L432.4,960.8 L443.6,961.7 L454.9,962.8 L466.1,963.8 L477.3,964.9 L488.5,966.1 L499.7,967.3 L511.0,968.6 L522.2,969.9 L533.4,971.3 L544.6,972.8 L555.8,974.4 L567.0,976.1 L578.3,977.9 L589.5,979.8 L600.7,981.9 L611.9,984.0 L623.1,986.2 L634.4,988.4 L645.6,990.8 L656.8,993.2 L668.0,995.6 L679.2,998.1 L690.5,1000.5 L701.7,1003.0 L712.9,1005.5 L724.1,1008.0 L735.3,1010.4 L746.5,1012.8 L757.8,1015.2 L769.0,1017.6 L780.2,1020.0 L791.4,1022.3 L802.6,1024.5 L813.9,1026.8 L825.1,1029.0 L836.3,1031.1 L847.5,1033.3 L858.7,1035.3 L870.0,1037.4 L881.2,1039.4 L892.4,1041.3 L903.6,1043.3 L914.8,1045.1 L926.0,1047.0 L937.3,1048.8 L948.5,1050.5 L959.7,1052.2" fill="none" stroke="#3852a5" stroke-width="3.5" stroke-linejoin="round"/>
<line x1="102.8" x2="111.8" y1="1106.7" y2="1106.7" stroke="#333333" stroke-width="3.6"/>
<text transform="translate(95.9,1117.1) scale(1,1.055)" text-anchor="end" font-size="28.1" fill="#4d4d4d">0.0</text>
<line x1="102.8" x2="111.8" y1="1005.9" y2="1005.9" stroke="#333333" stroke-width="3.6"/>
<text transform="translate(95.9,1016.3) scale(1,1.055)" text-anchor="end" font-size="28.1" fill="#4d4d4d">0.1</text>
<line x1="102.8" x2="111.8" y1="905.0" y2="905.0" stroke="#333333" stroke-width="3.6"/>
<text transform="translate(95.9,915.4) scale(1,1.055)" text-anchor="end" font-size="28.1" fill="#4d4d4d">0.2</text>
<line x1="102.8" x2="111.8" y1="804.2" y2="804.2" stroke="#333333" stroke-width="3.6"/>
<text transform="translate(95.9,814.6) scale(1,1.055)" text-anchor="end" font-size="28.1" fill="#4d4d4d">0.3</text>
<line x1="102.8" x2="111.8" y1="703.4" y2="703.4" stroke="#333333" stroke-width="3.6"/>
<text transform="translate(95.9,713.8) scale(1,1.055)" text-anchor="end" font-size="28.1" fill="#4d4d4d">0.4</text>
<line x1="152.0" x2="152.0" y1="1126.7" y2="1135.7" stroke="#333333" stroke-width="3.6"/>
<text transform="translate(152.3,1166.2) scale(1,1.055)" text-anchor="middle" font-size="28.1" fill="#4d4d4d">–5.0</text>
<line x1="376.3" x2="376.3" y1="1126.7" y2="1135.7" stroke="#333333" stroke-width="3.6"/>
<text transform="translate(376.6,1166.2) scale(1,1.055)" text-anchor="middle" font-size="28.1" fill="#4d4d4d">–2.5</text>
<line x1="600.7" x2="600.7" y1="1126.7" y2="1135.7" stroke="#333333" stroke-width="3.6"/>
<text transform="translate(601.0,1166.2) scale(1,1.055)" text-anchor="middle" font-size="28.1" fill="#4d4d4d">0.0</text>
<line x1="825.1" x2="825.1" y1="1126.7" y2="1135.7" stroke="#333333" stroke-width="3.6"/>
<text transform="translate(825.4,1166.2) scale(1,1.055)" text-anchor="middle" font-size="28.1" fill="#4d4d4d">2.5</text>
<text transform="translate(551.2,649.4) scale(1,1.035)" text-anchor="middle" font-size="34.45" fill="#231f20" stroke="#231f20" stroke-width="0.35">Popular-Sovereignty Disappointment</text>
<text transform="translate(555.4,1217.0) scale(1,1.035)" text-anchor="middle" font-size="34.45" fill="#231f20" stroke="#231f20" stroke-width="0.35">Liberalism Disappointment</text>
<text transform="translate(29.0,282.6) rotate(-90) scale(1,1.035)" text-anchor="middle" font-size="34.45" fill="#231f20" stroke="#231f20" stroke-width="0.35">Predicted Probability</text>
<text transform="translate(29.0,904.8) rotate(-90) scale(1,1.035)" text-anchor="middle" font-size="34.45" fill="#231f20" stroke="#231f20" stroke-width="0.35">Predicted Probability</text>
<rect x="175.1" y="1261.1" width="53.8" height="53.8" fill="#ebecee"/>
<rect x="177.05" y="1263.05" width="49.90" height="49.90" fill="#ffb929" fill-opacity="0.4" stroke="#f9a31b" stroke-width="3.9"/>
<line x1="180.2" x2="224.0" y1="1287.7" y2="1287.7" stroke="#f9a31b" stroke-width="3.5"/>
<text transform="translate(246.2,1298.2) scale(1,1.035)" text-anchor="start" font-size="27.9" fill="#231f20" stroke="#231f20" stroke-width="0.3">Centre-Populist</text>
<rect x="453.2" y="1261.1" width="53.8" height="53.8" fill="#ebecee"/>
<rect x="455.15" y="1263.05" width="49.90" height="49.90" fill="#fb2c2f" fill-opacity="0.4" stroke="#ed1c24" stroke-width="3.9"/>
<line x1="458.3" x2="502.1" y1="1287.7" y2="1287.7" stroke="#ed1c24" stroke-width="3.5"/>
<text transform="translate(524.6,1298.2) scale(1,1.035)" text-anchor="start" font-size="27.9" fill="#231f20" stroke="#231f20" stroke-width="0.3">Left-Populist</text>
<rect x="694.9" y="1261.1" width="53.8" height="53.8" fill="#ebecee"/>
<rect x="696.85" y="1263.05" width="49.90" height="49.90" fill="#382ba3" fill-opacity="0.42" stroke="#3852a5" stroke-width="3.9"/>
<line x1="700.0" x2="743.8" y1="1287.7" y2="1287.7" stroke="#3852a5" stroke-width="3.5"/>
<text transform="translate(766.0,1298.2) scale(1,1.035)" text-anchor="start" font-size="27.9" fill="#231f20" stroke="#231f20" stroke-width="0.3">Right-Populist</text>
</svg>
</body>
</html>
